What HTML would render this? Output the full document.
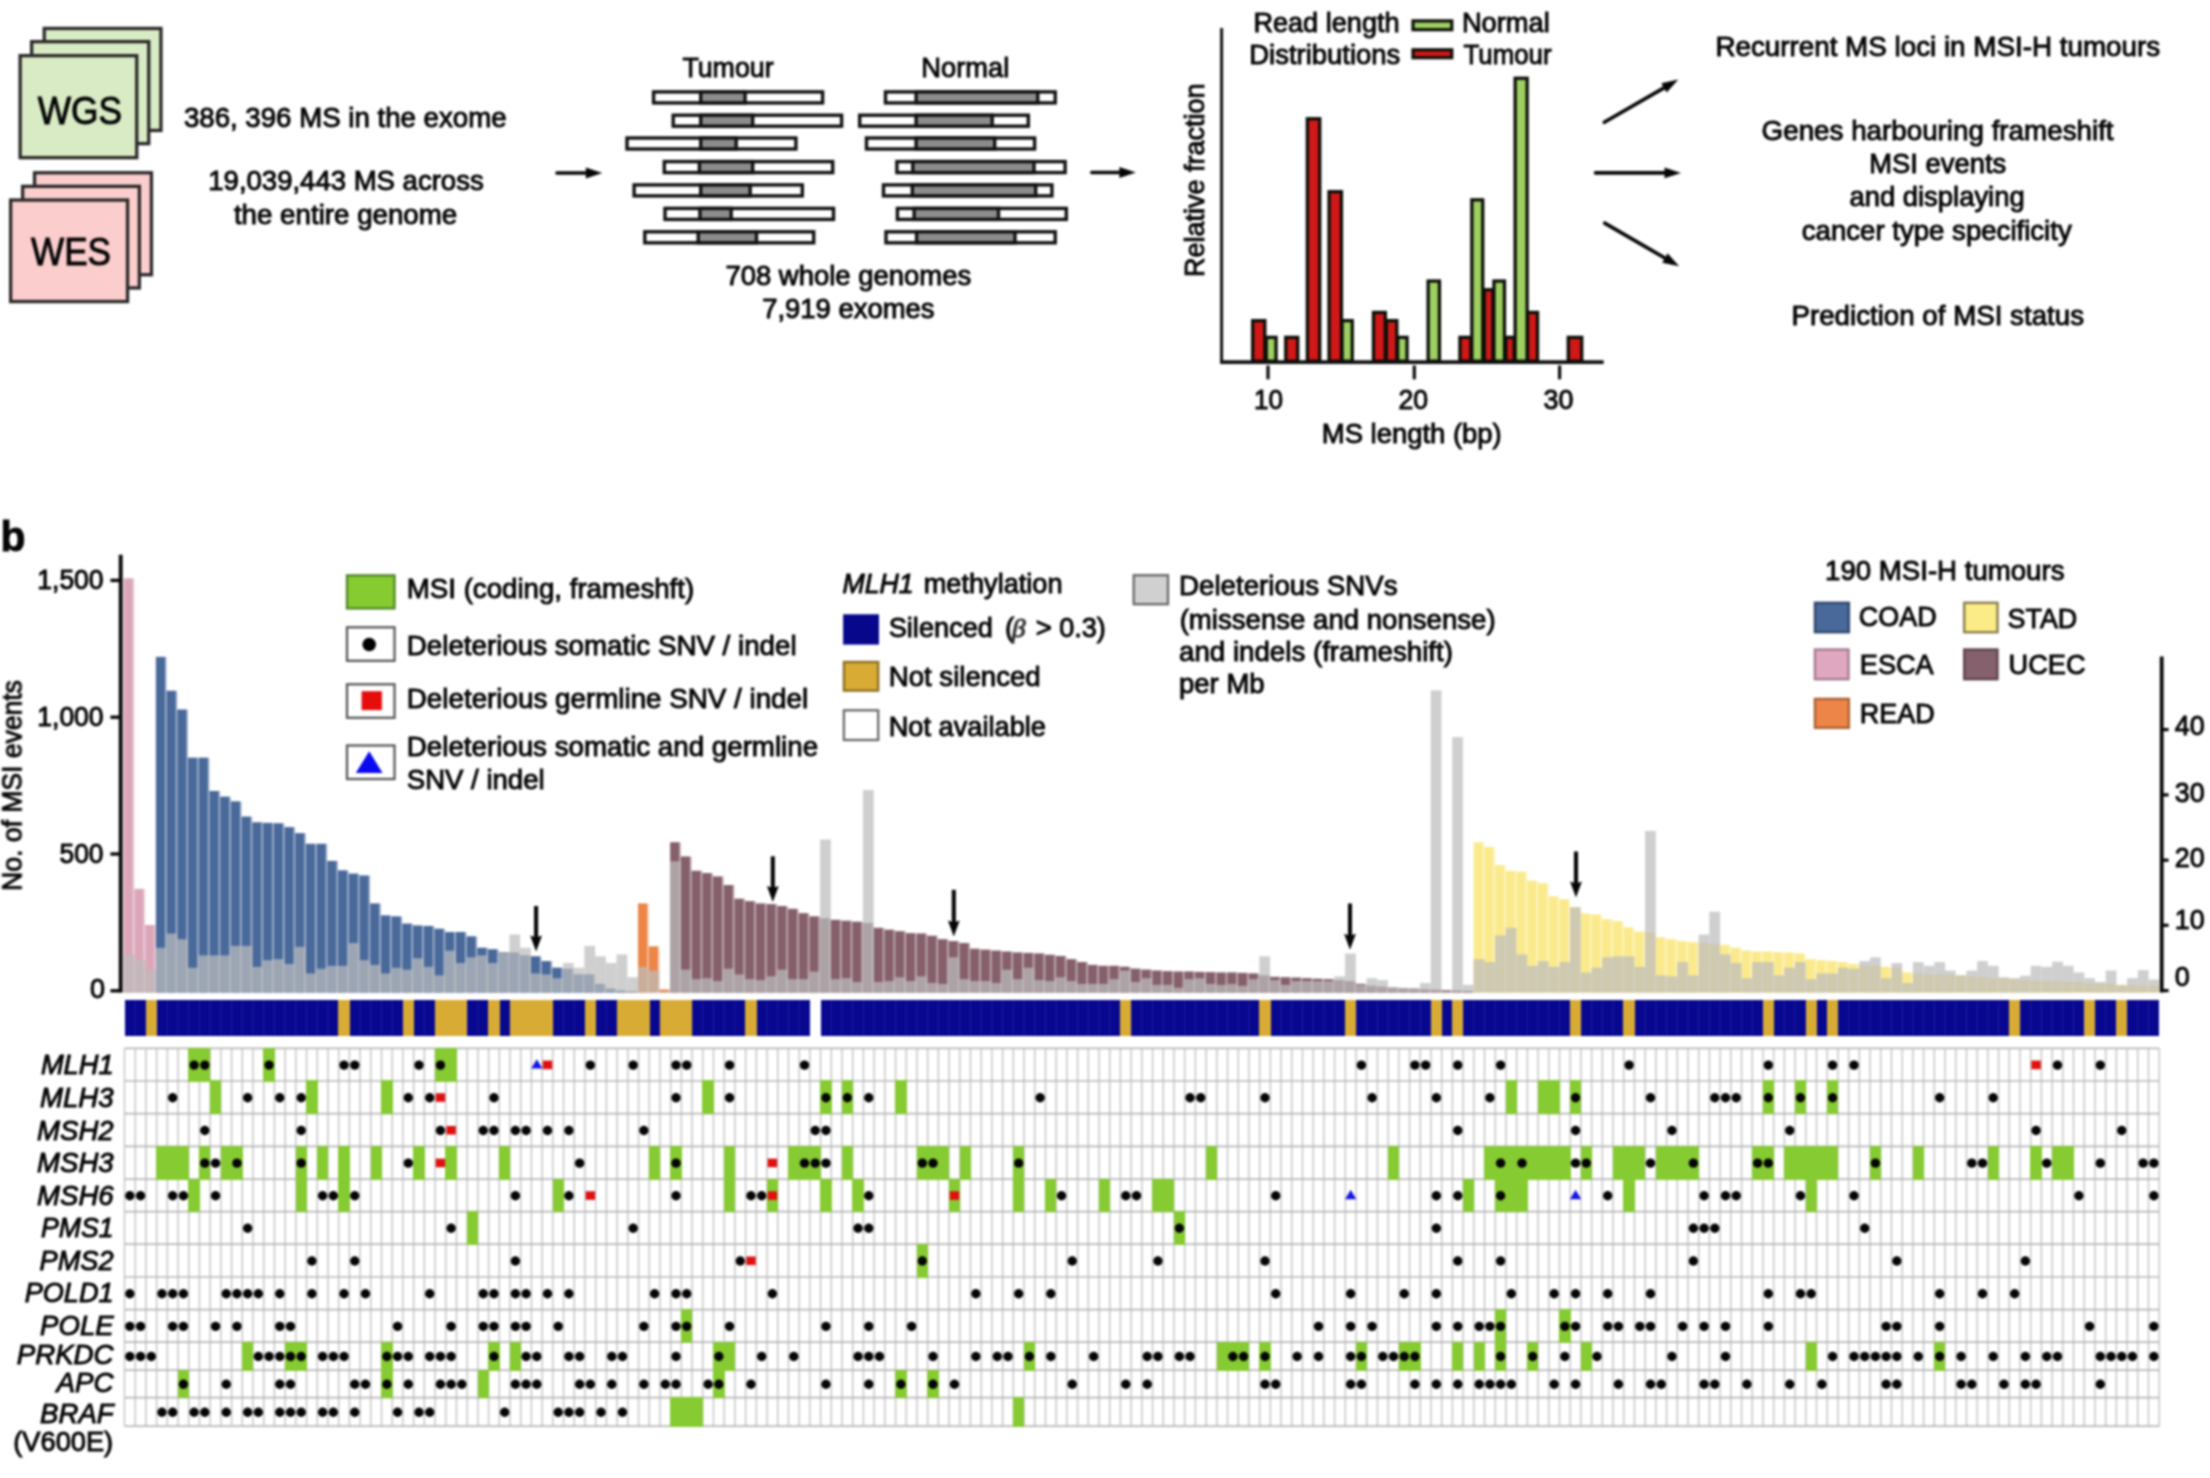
<!DOCTYPE html>
<html><head><meta charset="utf-8"><title>Figure</title>
<style>
html,body{margin:0;padding:0;background:#fff;}
body{width:2210px;height:1478px;overflow:hidden;}
svg{display:block;font-family:"Liberation Sans",sans-serif;}
#wrap{width:2210px;height:1478px;overflow:hidden;}
</style></head><body><div id="wrap">
<svg width="2210" height="1478" viewBox="0 0 2210 1478">
<defs><filter id="soft" x="0" y="0" width="100%" height="100%" filterUnits="objectBoundingBox" color-interpolation-filters="sRGB"><feGaussianBlur stdDeviation="1.0"/></filter></defs>
<g filter="url(#soft)">
<rect width="2210" height="1478" fill="#fff"/>
<rect x="44.25" y="28.45" width="116.70" height="102.00" fill="#d9ebc5" stroke="#2a2828" stroke-width="3.3" />
<rect x="31.65" y="41.65" width="117.10" height="102.00" fill="#d9ebc5" stroke="#2a2828" stroke-width="3.3" />
<rect x="20.15" y="55.65" width="116.60" height="102.00" fill="#d9ebc5" stroke="#2a2828" stroke-width="3.3" />
<rect x="34.55" y="172.75" width="116.90" height="102.00" fill="#fbcdcd" stroke="#2a2828" stroke-width="3.3" />
<rect x="22.65" y="186.35" width="116.70" height="101.60" fill="#fbcdcd" stroke="#2a2828" stroke-width="3.3" />
<rect x="10.65" y="200.05" width="116.90" height="101.50" fill="#fbcdcd" stroke="#2a2828" stroke-width="3.3" />
<text x="37.8" y="123.9" font-size="39.5" text-anchor="start" textLength="84.3" lengthAdjust="spacingAndGlyphs" fill="#050505" stroke="#050505" stroke-width="0.95"  >WGS</text>
<text x="31.0" y="265.1" font-size="39.5" text-anchor="start" textLength="80.0" lengthAdjust="spacingAndGlyphs" fill="#050505" stroke="#050505" stroke-width="0.95"  >WES</text>
<text x="183.9" y="126.8" font-size="27.5" text-anchor="start" textLength="322.7" lengthAdjust="spacingAndGlyphs" fill="#050505" stroke="#050505" stroke-width="0.95"  >386, 396 MS in the exome</text>
<text x="208.3" y="190.1" font-size="27.5" text-anchor="start" textLength="275.4" lengthAdjust="spacingAndGlyphs" fill="#050505" stroke="#050505" stroke-width="0.95"  >19,039,443 MS across</text>
<text x="233.9" y="223.6" font-size="27.5" text-anchor="start" textLength="223.4" lengthAdjust="spacingAndGlyphs" fill="#050505" stroke="#050505" stroke-width="0.95"  >the entire genome</text>
<g transform="translate(555.5 173.0) rotate(0.00)">
<path d="M1.5 0 H31.3" stroke="#050505" stroke-width="3.6" stroke-linecap="round" fill="none"/>
<path d="M46.8 0 L30.3 -5.4 L30.3 5.4 Z" fill="#050505"/>
</g>
<g transform="translate(1090.3 172.5) rotate(0.00)">
<path d="M1.5 0 H30.1" stroke="#050505" stroke-width="3.6" stroke-linecap="round" fill="none"/>
<path d="M45.6 0 L29.1 -5.4 L29.1 5.4 Z" fill="#050505"/>
</g>
<text x="682.4" y="77.3" font-size="27.5" text-anchor="start" textLength="91.2" lengthAdjust="spacingAndGlyphs" fill="#050505" stroke="#050505" stroke-width="0.95"  >Tumour</text>
<text x="921.3" y="77.3" font-size="27.5" text-anchor="start" textLength="87.9" lengthAdjust="spacingAndGlyphs" fill="#050505" stroke="#050505" stroke-width="0.95"  >Normal</text>
<rect x="653.60" y="91.90" width="169.00" height="11.00" fill="#fff" stroke="#111" stroke-width="3.4" />
<rect x="700.70" y="91.90" width="44.40" height="11.00" fill="#8c8c8c" stroke="#111" stroke-width="3.4" />
<rect x="673.20" y="115.20" width="168.40" height="11.00" fill="#fff" stroke="#111" stroke-width="3.4" />
<rect x="700.70" y="115.20" width="52.00" height="11.00" fill="#8c8c8c" stroke="#111" stroke-width="3.4" />
<rect x="627.00" y="138.00" width="168.90" height="11.00" fill="#fff" stroke="#111" stroke-width="3.4" />
<rect x="700.70" y="138.00" width="35.50" height="11.00" fill="#8c8c8c" stroke="#111" stroke-width="3.4" />
<rect x="664.30" y="161.60" width="168.40" height="11.00" fill="#fff" stroke="#111" stroke-width="3.4" />
<rect x="699.40" y="161.60" width="53.30" height="11.00" fill="#8c8c8c" stroke="#111" stroke-width="3.4" />
<rect x="634.10" y="184.90" width="168.20" height="11.00" fill="#fff" stroke="#111" stroke-width="3.4" />
<rect x="700.70" y="184.90" width="49.50" height="11.00" fill="#8c8c8c" stroke="#111" stroke-width="3.4" />
<rect x="665.00" y="208.40" width="168.50" height="11.00" fill="#fff" stroke="#111" stroke-width="3.4" />
<rect x="699.90" y="208.40" width="31.30" height="11.00" fill="#8c8c8c" stroke="#111" stroke-width="3.4" />
<rect x="644.80" y="231.80" width="168.90" height="11.00" fill="#fff" stroke="#111" stroke-width="3.4" />
<rect x="698.20" y="231.80" width="58.30" height="11.00" fill="#8c8c8c" stroke="#111" stroke-width="3.4" />
<rect x="885.50" y="91.90" width="169.70" height="11.00" fill="#fff" stroke="#111" stroke-width="3.4" />
<rect x="916.10" y="91.90" width="121.70" height="11.00" fill="#8c8c8c" stroke="#111" stroke-width="3.4" />
<rect x="859.70" y="115.20" width="168.60" height="11.00" fill="#fff" stroke="#111" stroke-width="3.4" />
<rect x="916.10" y="115.20" width="76.10" height="11.00" fill="#8c8c8c" stroke="#111" stroke-width="3.4" />
<rect x="866.50" y="138.00" width="168.10" height="11.00" fill="#fff" stroke="#111" stroke-width="3.4" />
<rect x="916.10" y="138.00" width="78.60" height="11.00" fill="#8c8c8c" stroke="#111" stroke-width="3.4" />
<rect x="896.90" y="161.60" width="168.20" height="11.00" fill="#fff" stroke="#111" stroke-width="3.4" />
<rect x="912.80" y="161.60" width="121.20" height="11.00" fill="#8c8c8c" stroke="#111" stroke-width="3.4" />
<rect x="883.50" y="184.90" width="168.40" height="11.00" fill="#fff" stroke="#111" stroke-width="3.4" />
<rect x="912.30" y="184.90" width="123.40" height="11.00" fill="#8c8c8c" stroke="#111" stroke-width="3.4" />
<rect x="897.40" y="208.40" width="168.90" height="11.00" fill="#fff" stroke="#111" stroke-width="3.4" />
<rect x="914.10" y="208.40" width="84.40" height="11.00" fill="#8c8c8c" stroke="#111" stroke-width="3.4" />
<rect x="886.00" y="231.80" width="169.20" height="11.00" fill="#fff" stroke="#111" stroke-width="3.4" />
<rect x="916.60" y="231.80" width="98.40" height="11.00" fill="#8c8c8c" stroke="#111" stroke-width="3.4" />
<text x="725.4" y="285.1" font-size="27.5" text-anchor="start" textLength="245.8" lengthAdjust="spacingAndGlyphs" fill="#050505" stroke="#050505" stroke-width="0.95"  >708 whole genomes</text>
<text x="762.2" y="318.1" font-size="27.5" text-anchor="start" textLength="172.3" lengthAdjust="spacingAndGlyphs" fill="#050505" stroke="#050505" stroke-width="0.95"  >7,919 exomes</text>
<path d="M1221.6 28 V362.4 H1603.5" stroke="#111" stroke-width="3" fill="none"/>
<path d="M1268.0 365.5 V379.3" stroke="#0a0a0a" stroke-width="3.2"/>
<path d="M1414.3 365.5 V379.3" stroke="#0a0a0a" stroke-width="3.2"/>
<path d="M1559.6 365.5 V379.3" stroke="#0a0a0a" stroke-width="3.2"/>
<rect x="1252.65" y="320.65" width="12.20" height="40.55" fill="#d01818" stroke="#0c0f08" stroke-width="3.3" />
<rect x="1266.25" y="337.35" width="9.80" height="23.85" fill="#9dd061" stroke="#0c0f08" stroke-width="3.3" />
<rect x="1285.75" y="337.35" width="12.00" height="23.85" fill="#d01818" stroke="#0c0f08" stroke-width="3.3" />
<rect x="1307.35" y="118.75" width="12.40" height="242.45" fill="#d01818" stroke="#0c0f08" stroke-width="3.3" />
<rect x="1329.05" y="191.65" width="12.40" height="169.55" fill="#d01818" stroke="#0c0f08" stroke-width="3.3" />
<rect x="1342.05" y="320.65" width="10.20" height="40.55" fill="#9dd061" stroke="#0c0f08" stroke-width="3.3" />
<rect x="1373.45" y="312.45" width="11.90" height="48.75" fill="#d01818" stroke="#0c0f08" stroke-width="3.3" />
<rect x="1386.35" y="320.65" width="10.50" height="40.55" fill="#d01818" stroke="#0c0f08" stroke-width="3.3" />
<rect x="1397.65" y="337.35" width="9.40" height="23.85" fill="#9dd061" stroke="#0c0f08" stroke-width="3.3" />
<rect x="1428.15" y="281.05" width="11.30" height="80.15" fill="#9dd061" stroke="#0c0f08" stroke-width="3.3" />
<rect x="1459.95" y="337.35" width="10.90" height="23.85" fill="#d01818" stroke="#0c0f08" stroke-width="3.3" />
<rect x="1471.85" y="199.85" width="10.90" height="161.35" fill="#9dd061" stroke="#0c0f08" stroke-width="3.3" />
<rect x="1484.25" y="289.75" width="8.70" height="71.45" fill="#d01818" stroke="#0c0f08" stroke-width="3.3" />
<rect x="1493.95" y="281.05" width="10.50" height="80.15" fill="#9dd061" stroke="#0c0f08" stroke-width="3.3" />
<rect x="1505.85" y="337.35" width="8.30" height="23.85" fill="#d01818" stroke="#0c0f08" stroke-width="3.3" />
<rect x="1515.15" y="78.25" width="12.00" height="282.95" fill="#9dd061" stroke="#0c0f08" stroke-width="3.3" />
<rect x="1527.55" y="312.45" width="10.00" height="48.75" fill="#d01818" stroke="#0c0f08" stroke-width="3.3" />
<rect x="1568.25" y="337.35" width="13.50" height="23.85" fill="#d01818" stroke="#0c0f08" stroke-width="3.3" />
<path d="M1220 361.8 H1603.5" stroke="#111" stroke-width="3" fill="none"/>
<text x="1253.4" y="31.6" font-size="27.5" text-anchor="start" textLength="146.2" lengthAdjust="spacingAndGlyphs" fill="#050505" stroke="#050505" stroke-width="0.95"  >Read length</text>
<text x="1249.3" y="64.4" font-size="27.5" text-anchor="start" textLength="151.0" lengthAdjust="spacingAndGlyphs" fill="#050505" stroke="#050505" stroke-width="0.95"  >Distributions</text>
<rect x="1413.00" y="20.90" width="38.80" height="8.80" fill="#9dd061" stroke="#0c0f08" stroke-width="3.2" />
<rect x="1413.00" y="49.80" width="38.80" height="7.90" fill="#d01818" stroke="#0c0f08" stroke-width="3.2" />
<text x="1461.9" y="31.6" font-size="27.5" text-anchor="start" textLength="87.8" lengthAdjust="spacingAndGlyphs" fill="#050505" stroke="#050505" stroke-width="0.95"  >Normal</text>
<text x="1463.5" y="64.4" font-size="27.5" text-anchor="start" textLength="88.0" lengthAdjust="spacingAndGlyphs" fill="#050505" stroke="#050505" stroke-width="0.95"  >Tumour</text>
<g transform="translate(1203.6 277) rotate(-90)">
<text x="0.0" y="0.6" font-size="27.5" text-anchor="start" textLength="193.6" lengthAdjust="spacingAndGlyphs" fill="#050505" stroke="#050505" stroke-width="0.95"  >Relative fraction</text>
</g>
<text x="1254.0" y="409.4" font-size="27" text-anchor="start" textLength="29.0" lengthAdjust="spacingAndGlyphs" fill="#050505" stroke="#050505" stroke-width="0.95"  >10</text>
<text x="1398.5" y="409.4" font-size="27" text-anchor="start" textLength="29.6" lengthAdjust="spacingAndGlyphs" fill="#050505" stroke="#050505" stroke-width="0.95"  >20</text>
<text x="1543.6" y="409.4" font-size="27" text-anchor="start" textLength="29.9" lengthAdjust="spacingAndGlyphs" fill="#050505" stroke="#050505" stroke-width="0.95"  >30</text>
<text x="1321.8" y="442.6" font-size="27.5" text-anchor="start" textLength="179.9" lengthAdjust="spacingAndGlyphs" fill="#050505" stroke="#050505" stroke-width="0.95"  >MS length (bp)</text>
<g transform="translate(1603.0 123.0) rotate(-29.96)">
<path d="M1.5 0 H71.4" stroke="#050505" stroke-width="3.6" stroke-linecap="round" fill="none"/>
<path d="M86.9 0 L70.4 -5.4 L70.4 5.4 Z" fill="#050505"/>
</g>
<g transform="translate(1594.0 172.9) rotate(0.00)">
<path d="M1.5 0 H71.5" stroke="#050505" stroke-width="3.6" stroke-linecap="round" fill="none"/>
<path d="M87.0 0 L70.5 -5.4 L70.5 5.4 Z" fill="#050505"/>
</g>
<g transform="translate(1603.4 222.4) rotate(30.08)">
<path d="M1.5 0 H72.1" stroke="#050505" stroke-width="3.6" stroke-linecap="round" fill="none"/>
<path d="M87.6 0 L71.1 -5.4 L71.1 5.4 Z" fill="#050505"/>
</g>
<text x="1715.4" y="56.2" font-size="27.5" text-anchor="start" textLength="444.7" lengthAdjust="spacingAndGlyphs" fill="#050505" stroke="#050505" stroke-width="0.95"  >Recurrent MS loci in MSI-H tumours</text>
<text x="1761.6" y="140.3" font-size="27.5" text-anchor="start" textLength="352.0" lengthAdjust="spacingAndGlyphs" fill="#050505" stroke="#050505" stroke-width="0.95"  >Genes harbouring frameshift</text>
<text x="1869.3" y="173.1" font-size="27.5" text-anchor="start" textLength="136.9" lengthAdjust="spacingAndGlyphs" fill="#050505" stroke="#050505" stroke-width="0.95"  >MSI events</text>
<text x="1849.4" y="206.4" font-size="27.5" text-anchor="start" textLength="175.3" lengthAdjust="spacingAndGlyphs" fill="#050505" stroke="#050505" stroke-width="0.95"  >and displaying</text>
<text x="1801.8" y="239.5" font-size="27.5" text-anchor="start" textLength="269.9" lengthAdjust="spacingAndGlyphs" fill="#050505" stroke="#050505" stroke-width="0.95"  >cancer type specificity</text>
<text x="1791.5" y="325.0" font-size="27.5" text-anchor="start" textLength="292.5" lengthAdjust="spacingAndGlyphs" fill="#050505" stroke="#050505" stroke-width="0.95"  >Prediction of MSI status</text>
<text x="0.5" y="550.6" font-size="42" text-anchor="start" textLength="25.0" lengthAdjust="spacingAndGlyphs" fill="#050505" stroke="#050505" stroke-width="0.95" style="font-weight:bold" >b</text>
<g>
<rect x="123.70" y="578.40" width="10.71" height="414.20" fill="#dca6b9" opacity="0.5"/>
<rect x="123.80" y="578.40" width="9.01" height="414.20" fill="#dca6b9"/>
<rect x="134.41" y="888.89" width="10.71" height="103.71" fill="#dca6b9" opacity="0.5"/>
<rect x="134.51" y="888.89" width="9.01" height="103.71" fill="#dca6b9"/>
<rect x="145.13" y="925.00" width="10.71" height="67.60" fill="#dca6b9" opacity="0.5"/>
<rect x="145.23" y="925.00" width="9.01" height="67.60" fill="#dca6b9"/>
<rect x="155.84" y="656.90" width="10.71" height="335.70" fill="#49699a" opacity="0.5"/>
<rect x="155.94" y="656.90" width="9.01" height="335.70" fill="#49699a"/>
<rect x="166.55" y="690.80" width="10.71" height="301.80" fill="#49699a" opacity="0.5"/>
<rect x="166.65" y="690.80" width="9.01" height="301.80" fill="#49699a"/>
<rect x="177.27" y="709.60" width="10.71" height="283.00" fill="#49699a" opacity="0.5"/>
<rect x="177.37" y="709.60" width="9.01" height="283.00" fill="#49699a"/>
<rect x="187.98" y="757.76" width="10.71" height="234.84" fill="#49699a" opacity="0.5"/>
<rect x="188.08" y="757.76" width="9.01" height="234.84" fill="#49699a"/>
<rect x="198.69" y="757.76" width="10.71" height="234.84" fill="#49699a" opacity="0.5"/>
<rect x="198.79" y="757.76" width="9.01" height="234.84" fill="#49699a"/>
<rect x="209.41" y="791.02" width="10.71" height="201.58" fill="#49699a" opacity="0.5"/>
<rect x="209.51" y="791.02" width="9.01" height="201.58" fill="#49699a"/>
<rect x="220.12" y="796.72" width="10.71" height="195.88" fill="#49699a" opacity="0.5"/>
<rect x="220.22" y="796.72" width="9.01" height="195.88" fill="#49699a"/>
<rect x="230.83" y="801.47" width="10.71" height="191.13" fill="#49699a" opacity="0.5"/>
<rect x="230.93" y="801.47" width="9.01" height="191.13" fill="#49699a"/>
<rect x="241.55" y="816.67" width="10.71" height="175.93" fill="#49699a" opacity="0.5"/>
<rect x="241.65" y="816.67" width="9.01" height="175.93" fill="#49699a"/>
<rect x="252.26" y="822.38" width="10.71" height="170.22" fill="#49699a" opacity="0.5"/>
<rect x="252.36" y="822.38" width="9.01" height="170.22" fill="#49699a"/>
<rect x="262.98" y="822.95" width="10.71" height="169.65" fill="#49699a" opacity="0.5"/>
<rect x="263.08" y="822.95" width="9.01" height="169.65" fill="#49699a"/>
<rect x="273.69" y="823.33" width="10.71" height="169.27" fill="#49699a" opacity="0.5"/>
<rect x="273.79" y="823.33" width="9.01" height="169.27" fill="#49699a"/>
<rect x="284.40" y="827.13" width="10.71" height="165.47" fill="#49699a" opacity="0.5"/>
<rect x="284.50" y="827.13" width="9.01" height="165.47" fill="#49699a"/>
<rect x="295.12" y="833.21" width="10.71" height="159.39" fill="#49699a" opacity="0.5"/>
<rect x="295.22" y="833.21" width="9.01" height="159.39" fill="#49699a"/>
<rect x="305.83" y="843.85" width="10.71" height="148.75" fill="#49699a" opacity="0.5"/>
<rect x="305.93" y="843.85" width="9.01" height="148.75" fill="#49699a"/>
<rect x="316.54" y="843.85" width="10.71" height="148.75" fill="#49699a" opacity="0.5"/>
<rect x="316.64" y="843.85" width="9.01" height="148.75" fill="#49699a"/>
<rect x="327.26" y="860.95" width="10.71" height="131.65" fill="#49699a" opacity="0.5"/>
<rect x="327.36" y="860.95" width="9.01" height="131.65" fill="#49699a"/>
<rect x="337.97" y="870.46" width="10.71" height="122.14" fill="#49699a" opacity="0.5"/>
<rect x="338.07" y="870.46" width="9.01" height="122.14" fill="#49699a"/>
<rect x="348.68" y="873.69" width="10.71" height="118.91" fill="#49699a" opacity="0.5"/>
<rect x="348.78" y="873.69" width="9.01" height="118.91" fill="#49699a"/>
<rect x="359.40" y="875.59" width="10.71" height="117.01" fill="#49699a" opacity="0.5"/>
<rect x="359.50" y="875.59" width="9.01" height="117.01" fill="#49699a"/>
<rect x="370.11" y="903.53" width="10.71" height="89.07" fill="#49699a" opacity="0.5"/>
<rect x="370.21" y="903.53" width="9.01" height="89.07" fill="#49699a"/>
<rect x="380.82" y="915.50" width="10.71" height="77.10" fill="#49699a" opacity="0.5"/>
<rect x="380.92" y="915.50" width="9.01" height="77.10" fill="#49699a"/>
<rect x="391.54" y="916.45" width="10.71" height="76.15" fill="#49699a" opacity="0.5"/>
<rect x="391.64" y="916.45" width="9.01" height="76.15" fill="#49699a"/>
<rect x="402.25" y="923.67" width="10.71" height="68.93" fill="#49699a" opacity="0.5"/>
<rect x="402.35" y="923.67" width="9.01" height="68.93" fill="#49699a"/>
<rect x="412.96" y="925.57" width="10.71" height="67.03" fill="#49699a" opacity="0.5"/>
<rect x="413.06" y="925.57" width="9.01" height="67.03" fill="#49699a"/>
<rect x="423.68" y="925.95" width="10.71" height="66.65" fill="#49699a" opacity="0.5"/>
<rect x="423.78" y="925.95" width="9.01" height="66.65" fill="#49699a"/>
<rect x="434.39" y="928.80" width="10.71" height="63.80" fill="#49699a" opacity="0.5"/>
<rect x="434.49" y="928.80" width="9.01" height="63.80" fill="#49699a"/>
<rect x="445.10" y="932.03" width="10.71" height="60.57" fill="#49699a" opacity="0.5"/>
<rect x="445.20" y="932.03" width="9.01" height="60.57" fill="#49699a"/>
<rect x="455.82" y="932.03" width="10.71" height="60.57" fill="#49699a" opacity="0.5"/>
<rect x="455.92" y="932.03" width="9.01" height="60.57" fill="#49699a"/>
<rect x="466.53" y="936.40" width="10.71" height="56.20" fill="#49699a" opacity="0.5"/>
<rect x="466.63" y="936.40" width="9.01" height="56.20" fill="#49699a"/>
<rect x="477.25" y="947.81" width="10.71" height="44.79" fill="#49699a" opacity="0.5"/>
<rect x="477.35" y="947.81" width="9.01" height="44.79" fill="#49699a"/>
<rect x="487.96" y="949.33" width="10.71" height="43.27" fill="#49699a" opacity="0.5"/>
<rect x="488.06" y="949.33" width="9.01" height="43.27" fill="#49699a"/>
<rect x="498.67" y="952.18" width="10.71" height="40.42" fill="#49699a" opacity="0.5"/>
<rect x="498.77" y="952.18" width="9.01" height="40.42" fill="#49699a"/>
<rect x="509.39" y="952.56" width="10.71" height="40.04" fill="#49699a" opacity="0.5"/>
<rect x="509.49" y="952.56" width="9.01" height="40.04" fill="#49699a"/>
<rect x="520.10" y="955.41" width="10.71" height="37.19" fill="#49699a" opacity="0.5"/>
<rect x="520.20" y="955.41" width="9.01" height="37.19" fill="#49699a"/>
<rect x="530.81" y="956.36" width="10.71" height="36.24" fill="#49699a" opacity="0.5"/>
<rect x="530.91" y="956.36" width="9.01" height="36.24" fill="#49699a"/>
<rect x="541.53" y="961.11" width="10.71" height="31.49" fill="#49699a" opacity="0.5"/>
<rect x="541.63" y="961.11" width="9.01" height="31.49" fill="#49699a"/>
<rect x="552.24" y="967.76" width="10.71" height="24.84" fill="#49699a" opacity="0.5"/>
<rect x="552.34" y="967.76" width="9.01" height="24.84" fill="#49699a"/>
<rect x="562.95" y="968.71" width="10.71" height="23.89" fill="#49699a" opacity="0.5"/>
<rect x="563.05" y="968.71" width="9.01" height="23.89" fill="#49699a"/>
<rect x="573.67" y="974.41" width="10.71" height="18.19" fill="#49699a" opacity="0.5"/>
<rect x="573.77" y="974.41" width="9.01" height="18.19" fill="#49699a"/>
<rect x="584.38" y="974.41" width="10.71" height="18.19" fill="#49699a" opacity="0.5"/>
<rect x="584.48" y="974.41" width="9.01" height="18.19" fill="#49699a"/>
<rect x="595.09" y="983.91" width="10.71" height="8.69" fill="#49699a" opacity="0.5"/>
<rect x="595.19" y="983.91" width="9.01" height="8.69" fill="#49699a"/>
<rect x="605.81" y="988.67" width="10.71" height="3.93" fill="#49699a" opacity="0.5"/>
<rect x="605.91" y="988.67" width="9.01" height="3.93" fill="#49699a"/>
<rect x="616.52" y="990.57" width="10.71" height="2.03" fill="#49699a" opacity="0.5"/>
<rect x="616.62" y="990.57" width="9.01" height="2.03" fill="#49699a"/>
<rect x="627.23" y="991.52" width="10.71" height="1.08" fill="#49699a" opacity="0.5"/>
<rect x="627.33" y="991.52" width="9.01" height="1.08" fill="#49699a"/>
<rect x="637.95" y="903.53" width="10.71" height="89.07" fill="#ec8546" opacity="0.5"/>
<rect x="638.05" y="903.53" width="9.01" height="89.07" fill="#ec8546"/>
<rect x="648.66" y="946.48" width="10.71" height="46.12" fill="#ec8546" opacity="0.5"/>
<rect x="648.76" y="946.48" width="9.01" height="46.12" fill="#ec8546"/>
<rect x="659.38" y="989.62" width="10.71" height="2.98" fill="#ec8546" opacity="0.5"/>
<rect x="659.48" y="989.62" width="9.01" height="2.98" fill="#ec8546"/>
<rect x="670.09" y="842.33" width="10.71" height="150.27" fill="#85606b" opacity="0.5"/>
<rect x="670.19" y="842.33" width="9.01" height="150.27" fill="#85606b"/>
<rect x="680.80" y="856.58" width="10.71" height="136.02" fill="#85606b" opacity="0.5"/>
<rect x="680.90" y="856.58" width="9.01" height="136.02" fill="#85606b"/>
<rect x="691.52" y="870.84" width="10.71" height="121.76" fill="#85606b" opacity="0.5"/>
<rect x="691.62" y="870.84" width="9.01" height="121.76" fill="#85606b"/>
<rect x="702.23" y="873.12" width="10.71" height="119.48" fill="#85606b" opacity="0.5"/>
<rect x="702.33" y="873.12" width="9.01" height="119.48" fill="#85606b"/>
<rect x="712.94" y="876.54" width="10.71" height="116.06" fill="#85606b" opacity="0.5"/>
<rect x="713.04" y="876.54" width="9.01" height="116.06" fill="#85606b"/>
<rect x="723.66" y="885.09" width="10.71" height="107.51" fill="#85606b" opacity="0.5"/>
<rect x="723.76" y="885.09" width="9.01" height="107.51" fill="#85606b"/>
<rect x="734.37" y="898.77" width="10.71" height="93.83" fill="#85606b" opacity="0.5"/>
<rect x="734.47" y="898.77" width="9.01" height="93.83" fill="#85606b"/>
<rect x="745.08" y="901.24" width="10.71" height="91.36" fill="#85606b" opacity="0.5"/>
<rect x="745.18" y="901.24" width="9.01" height="91.36" fill="#85606b"/>
<rect x="755.80" y="903.53" width="10.71" height="89.07" fill="#85606b" opacity="0.5"/>
<rect x="755.90" y="903.53" width="9.01" height="89.07" fill="#85606b"/>
<rect x="766.51" y="904.10" width="10.71" height="88.50" fill="#85606b" opacity="0.5"/>
<rect x="766.61" y="904.10" width="9.01" height="88.50" fill="#85606b"/>
<rect x="777.22" y="906.00" width="10.71" height="86.60" fill="#85606b" opacity="0.5"/>
<rect x="777.32" y="906.00" width="9.01" height="86.60" fill="#85606b"/>
<rect x="787.94" y="908.85" width="10.71" height="83.75" fill="#85606b" opacity="0.5"/>
<rect x="788.04" y="908.85" width="9.01" height="83.75" fill="#85606b"/>
<rect x="798.65" y="913.22" width="10.71" height="79.38" fill="#85606b" opacity="0.5"/>
<rect x="798.75" y="913.22" width="9.01" height="79.38" fill="#85606b"/>
<rect x="809.36" y="916.45" width="10.71" height="76.15" fill="#85606b" opacity="0.5"/>
<rect x="809.46" y="916.45" width="9.01" height="76.15" fill="#85606b"/>
<rect x="820.08" y="918.35" width="10.71" height="74.25" fill="#85606b" opacity="0.5"/>
<rect x="820.18" y="918.35" width="9.01" height="74.25" fill="#85606b"/>
<rect x="830.79" y="919.87" width="10.71" height="72.73" fill="#85606b" opacity="0.5"/>
<rect x="830.89" y="919.87" width="9.01" height="72.73" fill="#85606b"/>
<rect x="841.50" y="920.82" width="10.71" height="71.78" fill="#85606b" opacity="0.5"/>
<rect x="841.60" y="920.82" width="9.01" height="71.78" fill="#85606b"/>
<rect x="852.22" y="921.77" width="10.71" height="70.83" fill="#85606b" opacity="0.5"/>
<rect x="852.32" y="921.77" width="9.01" height="70.83" fill="#85606b"/>
<rect x="862.93" y="923.10" width="10.71" height="69.50" fill="#85606b" opacity="0.5"/>
<rect x="863.03" y="923.10" width="9.01" height="69.50" fill="#85606b"/>
<rect x="873.64" y="927.85" width="10.71" height="64.75" fill="#85606b" opacity="0.5"/>
<rect x="873.75" y="927.85" width="9.01" height="64.75" fill="#85606b"/>
<rect x="884.36" y="929.75" width="10.71" height="62.85" fill="#85606b" opacity="0.5"/>
<rect x="884.46" y="929.75" width="9.01" height="62.85" fill="#85606b"/>
<rect x="895.07" y="931.27" width="10.71" height="61.33" fill="#85606b" opacity="0.5"/>
<rect x="895.17" y="931.27" width="9.01" height="61.33" fill="#85606b"/>
<rect x="905.79" y="933.17" width="10.71" height="59.43" fill="#85606b" opacity="0.5"/>
<rect x="905.89" y="933.17" width="9.01" height="59.43" fill="#85606b"/>
<rect x="916.50" y="933.55" width="10.71" height="59.05" fill="#85606b" opacity="0.5"/>
<rect x="916.60" y="933.55" width="9.01" height="59.05" fill="#85606b"/>
<rect x="927.21" y="935.83" width="10.71" height="56.77" fill="#85606b" opacity="0.5"/>
<rect x="927.31" y="935.83" width="9.01" height="56.77" fill="#85606b"/>
<rect x="937.93" y="939.25" width="10.71" height="53.35" fill="#85606b" opacity="0.5"/>
<rect x="938.03" y="939.25" width="9.01" height="53.35" fill="#85606b"/>
<rect x="948.64" y="941.15" width="10.71" height="51.45" fill="#85606b" opacity="0.5"/>
<rect x="948.74" y="941.15" width="9.01" height="51.45" fill="#85606b"/>
<rect x="959.35" y="943.05" width="10.71" height="49.55" fill="#85606b" opacity="0.5"/>
<rect x="959.45" y="943.05" width="9.01" height="49.55" fill="#85606b"/>
<rect x="970.07" y="948.76" width="10.71" height="43.84" fill="#85606b" opacity="0.5"/>
<rect x="970.17" y="948.76" width="9.01" height="43.84" fill="#85606b"/>
<rect x="980.78" y="949.71" width="10.71" height="42.89" fill="#85606b" opacity="0.5"/>
<rect x="980.88" y="949.71" width="9.01" height="42.89" fill="#85606b"/>
<rect x="991.49" y="950.66" width="10.71" height="41.94" fill="#85606b" opacity="0.5"/>
<rect x="991.59" y="950.66" width="9.01" height="41.94" fill="#85606b"/>
<rect x="1002.21" y="951.61" width="10.71" height="40.99" fill="#85606b" opacity="0.5"/>
<rect x="1002.31" y="951.61" width="9.01" height="40.99" fill="#85606b"/>
<rect x="1012.92" y="952.56" width="10.71" height="40.04" fill="#85606b" opacity="0.5"/>
<rect x="1013.02" y="952.56" width="9.01" height="40.04" fill="#85606b"/>
<rect x="1023.63" y="952.94" width="10.71" height="39.66" fill="#85606b" opacity="0.5"/>
<rect x="1023.73" y="952.94" width="9.01" height="39.66" fill="#85606b"/>
<rect x="1034.35" y="953.51" width="10.71" height="39.09" fill="#85606b" opacity="0.5"/>
<rect x="1034.45" y="953.51" width="9.01" height="39.09" fill="#85606b"/>
<rect x="1045.06" y="954.84" width="10.71" height="37.76" fill="#85606b" opacity="0.5"/>
<rect x="1045.16" y="954.84" width="9.01" height="37.76" fill="#85606b"/>
<rect x="1055.77" y="955.98" width="10.71" height="36.62" fill="#85606b" opacity="0.5"/>
<rect x="1055.87" y="955.98" width="9.01" height="36.62" fill="#85606b"/>
<rect x="1066.49" y="959.21" width="10.71" height="33.39" fill="#85606b" opacity="0.5"/>
<rect x="1066.59" y="959.21" width="9.01" height="33.39" fill="#85606b"/>
<rect x="1077.20" y="962.06" width="10.71" height="30.54" fill="#85606b" opacity="0.5"/>
<rect x="1077.30" y="962.06" width="9.01" height="30.54" fill="#85606b"/>
<rect x="1087.91" y="964.91" width="10.71" height="27.69" fill="#85606b" opacity="0.5"/>
<rect x="1088.01" y="964.91" width="9.01" height="27.69" fill="#85606b"/>
<rect x="1098.63" y="965.86" width="10.71" height="26.74" fill="#85606b" opacity="0.5"/>
<rect x="1098.73" y="965.86" width="9.01" height="26.74" fill="#85606b"/>
<rect x="1109.34" y="965.86" width="10.71" height="26.74" fill="#85606b" opacity="0.5"/>
<rect x="1109.44" y="965.86" width="9.01" height="26.74" fill="#85606b"/>
<rect x="1120.06" y="966.81" width="10.71" height="25.79" fill="#85606b" opacity="0.5"/>
<rect x="1120.16" y="966.81" width="9.01" height="25.79" fill="#85606b"/>
<rect x="1130.77" y="968.71" width="10.71" height="23.89" fill="#85606b" opacity="0.5"/>
<rect x="1130.87" y="968.71" width="9.01" height="23.89" fill="#85606b"/>
<rect x="1141.48" y="969.66" width="10.71" height="22.94" fill="#85606b" opacity="0.5"/>
<rect x="1141.58" y="969.66" width="9.01" height="22.94" fill="#85606b"/>
<rect x="1152.20" y="970.61" width="10.71" height="21.99" fill="#85606b" opacity="0.5"/>
<rect x="1152.30" y="970.61" width="9.01" height="21.99" fill="#85606b"/>
<rect x="1162.91" y="971.18" width="10.71" height="21.42" fill="#85606b" opacity="0.5"/>
<rect x="1163.01" y="971.18" width="9.01" height="21.42" fill="#85606b"/>
<rect x="1173.62" y="971.56" width="10.71" height="21.04" fill="#85606b" opacity="0.5"/>
<rect x="1173.72" y="971.56" width="9.01" height="21.04" fill="#85606b"/>
<rect x="1184.34" y="971.56" width="10.71" height="21.04" fill="#85606b" opacity="0.5"/>
<rect x="1184.44" y="971.56" width="9.01" height="21.04" fill="#85606b"/>
<rect x="1195.05" y="971.94" width="10.71" height="20.66" fill="#85606b" opacity="0.5"/>
<rect x="1195.15" y="971.94" width="9.01" height="20.66" fill="#85606b"/>
<rect x="1205.76" y="972.13" width="10.71" height="20.47" fill="#85606b" opacity="0.5"/>
<rect x="1205.86" y="972.13" width="9.01" height="20.47" fill="#85606b"/>
<rect x="1216.48" y="972.51" width="10.71" height="20.09" fill="#85606b" opacity="0.5"/>
<rect x="1216.58" y="972.51" width="9.01" height="20.09" fill="#85606b"/>
<rect x="1227.19" y="972.51" width="10.71" height="20.09" fill="#85606b" opacity="0.5"/>
<rect x="1227.29" y="972.51" width="9.01" height="20.09" fill="#85606b"/>
<rect x="1237.90" y="972.89" width="10.71" height="19.71" fill="#85606b" opacity="0.5"/>
<rect x="1238.00" y="972.89" width="9.01" height="19.71" fill="#85606b"/>
<rect x="1248.62" y="973.46" width="10.71" height="19.14" fill="#85606b" opacity="0.5"/>
<rect x="1248.72" y="973.46" width="9.01" height="19.14" fill="#85606b"/>
<rect x="1259.33" y="975.36" width="10.71" height="17.24" fill="#85606b" opacity="0.5"/>
<rect x="1259.43" y="975.36" width="9.01" height="17.24" fill="#85606b"/>
<rect x="1270.04" y="976.88" width="10.71" height="15.72" fill="#85606b" opacity="0.5"/>
<rect x="1270.14" y="976.88" width="9.01" height="15.72" fill="#85606b"/>
<rect x="1280.76" y="977.26" width="10.71" height="15.34" fill="#85606b" opacity="0.5"/>
<rect x="1280.86" y="977.26" width="9.01" height="15.34" fill="#85606b"/>
<rect x="1291.47" y="977.64" width="10.71" height="14.96" fill="#85606b" opacity="0.5"/>
<rect x="1291.57" y="977.64" width="9.01" height="14.96" fill="#85606b"/>
<rect x="1302.18" y="978.21" width="10.71" height="14.39" fill="#85606b" opacity="0.5"/>
<rect x="1302.28" y="978.21" width="9.01" height="14.39" fill="#85606b"/>
<rect x="1312.90" y="978.78" width="10.71" height="13.82" fill="#85606b" opacity="0.5"/>
<rect x="1313.00" y="978.78" width="9.01" height="13.82" fill="#85606b"/>
<rect x="1323.61" y="979.16" width="10.71" height="13.44" fill="#85606b" opacity="0.5"/>
<rect x="1323.71" y="979.16" width="9.01" height="13.44" fill="#85606b"/>
<rect x="1334.33" y="980.11" width="10.71" height="12.49" fill="#85606b" opacity="0.5"/>
<rect x="1334.43" y="980.11" width="9.01" height="12.49" fill="#85606b"/>
<rect x="1345.04" y="981.06" width="10.71" height="11.54" fill="#85606b" opacity="0.5"/>
<rect x="1345.14" y="981.06" width="9.01" height="11.54" fill="#85606b"/>
<rect x="1355.75" y="983.91" width="10.71" height="8.69" fill="#85606b" opacity="0.5"/>
<rect x="1355.85" y="983.91" width="9.01" height="8.69" fill="#85606b"/>
<rect x="1366.47" y="985.81" width="10.71" height="6.79" fill="#85606b" opacity="0.5"/>
<rect x="1366.57" y="985.81" width="9.01" height="6.79" fill="#85606b"/>
<rect x="1377.18" y="986.76" width="10.71" height="5.84" fill="#85606b" opacity="0.5"/>
<rect x="1377.28" y="986.76" width="9.01" height="5.84" fill="#85606b"/>
<rect x="1387.89" y="987.72" width="10.71" height="4.88" fill="#85606b" opacity="0.5"/>
<rect x="1387.99" y="987.72" width="9.01" height="4.88" fill="#85606b"/>
<rect x="1398.61" y="988.29" width="10.71" height="4.31" fill="#85606b" opacity="0.5"/>
<rect x="1398.71" y="988.29" width="9.01" height="4.31" fill="#85606b"/>
<rect x="1409.32" y="988.67" width="10.71" height="3.93" fill="#85606b" opacity="0.5"/>
<rect x="1409.42" y="988.67" width="9.01" height="3.93" fill="#85606b"/>
<rect x="1420.03" y="989.24" width="10.71" height="3.36" fill="#85606b" opacity="0.5"/>
<rect x="1420.13" y="989.24" width="9.01" height="3.36" fill="#85606b"/>
<rect x="1430.75" y="989.62" width="10.71" height="2.98" fill="#85606b" opacity="0.5"/>
<rect x="1430.85" y="989.62" width="9.01" height="2.98" fill="#85606b"/>
<rect x="1441.46" y="990.00" width="10.71" height="2.60" fill="#85606b" opacity="0.5"/>
<rect x="1441.56" y="990.00" width="9.01" height="2.60" fill="#85606b"/>
<rect x="1452.17" y="990.57" width="10.71" height="2.03" fill="#85606b" opacity="0.5"/>
<rect x="1452.27" y="990.57" width="9.01" height="2.03" fill="#85606b"/>
<rect x="1462.89" y="990.95" width="10.71" height="1.65" fill="#85606b" opacity="0.5"/>
<rect x="1462.99" y="990.95" width="9.01" height="1.65" fill="#85606b"/>
<rect x="1473.60" y="842.33" width="10.71" height="150.27" fill="#fbea8c" opacity="0.5"/>
<rect x="1473.70" y="842.33" width="9.01" height="150.27" fill="#fbea8c"/>
<rect x="1484.31" y="847.08" width="10.71" height="145.52" fill="#fbea8c" opacity="0.5"/>
<rect x="1484.41" y="847.08" width="9.01" height="145.52" fill="#fbea8c"/>
<rect x="1495.03" y="865.14" width="10.71" height="127.46" fill="#fbea8c" opacity="0.5"/>
<rect x="1495.13" y="865.14" width="9.01" height="127.46" fill="#fbea8c"/>
<rect x="1505.74" y="870.84" width="10.71" height="121.76" fill="#fbea8c" opacity="0.5"/>
<rect x="1505.84" y="870.84" width="9.01" height="121.76" fill="#fbea8c"/>
<rect x="1516.45" y="871.79" width="10.71" height="120.81" fill="#fbea8c" opacity="0.5"/>
<rect x="1516.55" y="871.79" width="9.01" height="120.81" fill="#fbea8c"/>
<rect x="1527.17" y="880.72" width="10.71" height="111.88" fill="#fbea8c" opacity="0.5"/>
<rect x="1527.27" y="880.72" width="9.01" height="111.88" fill="#fbea8c"/>
<rect x="1537.88" y="883.19" width="10.71" height="109.41" fill="#fbea8c" opacity="0.5"/>
<rect x="1537.98" y="883.19" width="9.01" height="109.41" fill="#fbea8c"/>
<rect x="1548.60" y="896.49" width="10.71" height="96.11" fill="#fbea8c" opacity="0.5"/>
<rect x="1548.70" y="896.49" width="9.01" height="96.11" fill="#fbea8c"/>
<rect x="1559.31" y="899.34" width="10.71" height="93.26" fill="#fbea8c" opacity="0.5"/>
<rect x="1559.41" y="899.34" width="9.01" height="93.26" fill="#fbea8c"/>
<rect x="1570.02" y="906.95" width="10.71" height="85.65" fill="#fbea8c" opacity="0.5"/>
<rect x="1570.12" y="906.95" width="9.01" height="85.65" fill="#fbea8c"/>
<rect x="1580.74" y="913.60" width="10.71" height="79.00" fill="#fbea8c" opacity="0.5"/>
<rect x="1580.84" y="913.60" width="9.01" height="79.00" fill="#fbea8c"/>
<rect x="1591.45" y="914.55" width="10.71" height="78.05" fill="#fbea8c" opacity="0.5"/>
<rect x="1591.55" y="914.55" width="9.01" height="78.05" fill="#fbea8c"/>
<rect x="1602.16" y="919.30" width="10.71" height="73.30" fill="#fbea8c" opacity="0.5"/>
<rect x="1602.26" y="919.30" width="9.01" height="73.30" fill="#fbea8c"/>
<rect x="1612.88" y="921.20" width="10.71" height="71.40" fill="#fbea8c" opacity="0.5"/>
<rect x="1612.98" y="921.20" width="9.01" height="71.40" fill="#fbea8c"/>
<rect x="1623.59" y="927.47" width="10.71" height="65.13" fill="#fbea8c" opacity="0.5"/>
<rect x="1623.69" y="927.47" width="9.01" height="65.13" fill="#fbea8c"/>
<rect x="1634.30" y="931.65" width="10.71" height="60.95" fill="#fbea8c" opacity="0.5"/>
<rect x="1634.40" y="931.65" width="9.01" height="60.95" fill="#fbea8c"/>
<rect x="1645.02" y="932.60" width="10.71" height="60.00" fill="#fbea8c" opacity="0.5"/>
<rect x="1645.12" y="932.60" width="9.01" height="60.00" fill="#fbea8c"/>
<rect x="1655.73" y="937.35" width="10.71" height="55.25" fill="#fbea8c" opacity="0.5"/>
<rect x="1655.83" y="937.35" width="9.01" height="55.25" fill="#fbea8c"/>
<rect x="1666.44" y="939.25" width="10.71" height="53.35" fill="#fbea8c" opacity="0.5"/>
<rect x="1666.54" y="939.25" width="9.01" height="53.35" fill="#fbea8c"/>
<rect x="1677.16" y="941.15" width="10.71" height="51.45" fill="#fbea8c" opacity="0.5"/>
<rect x="1677.26" y="941.15" width="9.01" height="51.45" fill="#fbea8c"/>
<rect x="1687.87" y="942.10" width="10.71" height="50.50" fill="#fbea8c" opacity="0.5"/>
<rect x="1687.97" y="942.10" width="9.01" height="50.50" fill="#fbea8c"/>
<rect x="1698.58" y="943.05" width="10.71" height="49.55" fill="#fbea8c" opacity="0.5"/>
<rect x="1698.68" y="943.05" width="9.01" height="49.55" fill="#fbea8c"/>
<rect x="1709.30" y="944.00" width="10.71" height="48.60" fill="#fbea8c" opacity="0.5"/>
<rect x="1709.40" y="944.00" width="9.01" height="48.60" fill="#fbea8c"/>
<rect x="1720.01" y="944.95" width="10.71" height="47.65" fill="#fbea8c" opacity="0.5"/>
<rect x="1720.11" y="944.95" width="9.01" height="47.65" fill="#fbea8c"/>
<rect x="1730.72" y="947.81" width="10.71" height="44.79" fill="#fbea8c" opacity="0.5"/>
<rect x="1730.82" y="947.81" width="9.01" height="44.79" fill="#fbea8c"/>
<rect x="1741.44" y="950.66" width="10.71" height="41.94" fill="#fbea8c" opacity="0.5"/>
<rect x="1741.54" y="950.66" width="9.01" height="41.94" fill="#fbea8c"/>
<rect x="1752.15" y="951.61" width="10.71" height="40.99" fill="#fbea8c" opacity="0.5"/>
<rect x="1752.25" y="951.61" width="9.01" height="40.99" fill="#fbea8c"/>
<rect x="1762.87" y="951.61" width="10.71" height="40.99" fill="#fbea8c" opacity="0.5"/>
<rect x="1762.97" y="951.61" width="9.01" height="40.99" fill="#fbea8c"/>
<rect x="1773.58" y="952.18" width="10.71" height="40.42" fill="#fbea8c" opacity="0.5"/>
<rect x="1773.68" y="952.18" width="9.01" height="40.42" fill="#fbea8c"/>
<rect x="1784.29" y="952.56" width="10.71" height="40.04" fill="#fbea8c" opacity="0.5"/>
<rect x="1784.39" y="952.56" width="9.01" height="40.04" fill="#fbea8c"/>
<rect x="1795.01" y="953.51" width="10.71" height="39.09" fill="#fbea8c" opacity="0.5"/>
<rect x="1795.11" y="953.51" width="9.01" height="39.09" fill="#fbea8c"/>
<rect x="1805.72" y="959.21" width="10.71" height="33.39" fill="#fbea8c" opacity="0.5"/>
<rect x="1805.82" y="959.21" width="9.01" height="33.39" fill="#fbea8c"/>
<rect x="1816.43" y="960.16" width="10.71" height="32.44" fill="#fbea8c" opacity="0.5"/>
<rect x="1816.53" y="960.16" width="9.01" height="32.44" fill="#fbea8c"/>
<rect x="1827.15" y="961.11" width="10.71" height="31.49" fill="#fbea8c" opacity="0.5"/>
<rect x="1827.25" y="961.11" width="9.01" height="31.49" fill="#fbea8c"/>
<rect x="1837.86" y="962.06" width="10.71" height="30.54" fill="#fbea8c" opacity="0.5"/>
<rect x="1837.96" y="962.06" width="9.01" height="30.54" fill="#fbea8c"/>
<rect x="1848.57" y="963.96" width="10.71" height="28.64" fill="#fbea8c" opacity="0.5"/>
<rect x="1848.67" y="963.96" width="9.01" height="28.64" fill="#fbea8c"/>
<rect x="1859.29" y="965.86" width="10.71" height="26.74" fill="#fbea8c" opacity="0.5"/>
<rect x="1859.39" y="965.86" width="9.01" height="26.74" fill="#fbea8c"/>
<rect x="1870.00" y="965.86" width="10.71" height="26.74" fill="#fbea8c" opacity="0.5"/>
<rect x="1870.10" y="965.86" width="9.01" height="26.74" fill="#fbea8c"/>
<rect x="1880.71" y="966.81" width="10.71" height="25.79" fill="#fbea8c" opacity="0.5"/>
<rect x="1880.81" y="966.81" width="9.01" height="25.79" fill="#fbea8c"/>
<rect x="1891.43" y="967.76" width="10.71" height="24.84" fill="#fbea8c" opacity="0.5"/>
<rect x="1891.53" y="967.76" width="9.01" height="24.84" fill="#fbea8c"/>
<rect x="1902.14" y="972.51" width="10.71" height="20.09" fill="#fbea8c" opacity="0.5"/>
<rect x="1902.24" y="972.51" width="9.01" height="20.09" fill="#fbea8c"/>
<rect x="1912.85" y="973.46" width="10.71" height="19.14" fill="#fbea8c" opacity="0.5"/>
<rect x="1912.95" y="973.46" width="9.01" height="19.14" fill="#fbea8c"/>
<rect x="1923.57" y="974.41" width="10.71" height="18.19" fill="#fbea8c" opacity="0.5"/>
<rect x="1923.67" y="974.41" width="9.01" height="18.19" fill="#fbea8c"/>
<rect x="1934.28" y="974.41" width="10.71" height="18.19" fill="#fbea8c" opacity="0.5"/>
<rect x="1934.38" y="974.41" width="9.01" height="18.19" fill="#fbea8c"/>
<rect x="1945.00" y="975.36" width="10.71" height="17.24" fill="#fbea8c" opacity="0.5"/>
<rect x="1945.10" y="975.36" width="9.01" height="17.24" fill="#fbea8c"/>
<rect x="1955.71" y="975.36" width="10.71" height="17.24" fill="#fbea8c" opacity="0.5"/>
<rect x="1955.81" y="975.36" width="9.01" height="17.24" fill="#fbea8c"/>
<rect x="1966.42" y="976.31" width="10.71" height="16.29" fill="#fbea8c" opacity="0.5"/>
<rect x="1966.52" y="976.31" width="9.01" height="16.29" fill="#fbea8c"/>
<rect x="1977.14" y="977.26" width="10.71" height="15.34" fill="#fbea8c" opacity="0.5"/>
<rect x="1977.24" y="977.26" width="9.01" height="15.34" fill="#fbea8c"/>
<rect x="1987.85" y="978.21" width="10.71" height="14.39" fill="#fbea8c" opacity="0.5"/>
<rect x="1987.95" y="978.21" width="9.01" height="14.39" fill="#fbea8c"/>
<rect x="1998.56" y="978.21" width="10.71" height="14.39" fill="#fbea8c" opacity="0.5"/>
<rect x="1998.66" y="978.21" width="9.01" height="14.39" fill="#fbea8c"/>
<rect x="2009.28" y="979.16" width="10.71" height="13.44" fill="#fbea8c" opacity="0.5"/>
<rect x="2009.38" y="979.16" width="9.01" height="13.44" fill="#fbea8c"/>
<rect x="2019.99" y="980.11" width="10.71" height="12.49" fill="#fbea8c" opacity="0.5"/>
<rect x="2020.09" y="980.11" width="9.01" height="12.49" fill="#fbea8c"/>
<rect x="2030.70" y="981.06" width="10.71" height="11.54" fill="#fbea8c" opacity="0.5"/>
<rect x="2030.80" y="981.06" width="9.01" height="11.54" fill="#fbea8c"/>
<rect x="2041.42" y="981.06" width="10.71" height="11.54" fill="#fbea8c" opacity="0.5"/>
<rect x="2041.52" y="981.06" width="9.01" height="11.54" fill="#fbea8c"/>
<rect x="2052.13" y="981.06" width="10.71" height="11.54" fill="#fbea8c" opacity="0.5"/>
<rect x="2052.23" y="981.06" width="9.01" height="11.54" fill="#fbea8c"/>
<rect x="2062.84" y="982.01" width="10.71" height="10.59" fill="#fbea8c" opacity="0.5"/>
<rect x="2062.94" y="982.01" width="9.01" height="10.59" fill="#fbea8c"/>
<rect x="2073.56" y="982.01" width="10.71" height="10.59" fill="#fbea8c" opacity="0.5"/>
<rect x="2073.66" y="982.01" width="9.01" height="10.59" fill="#fbea8c"/>
<rect x="2084.27" y="982.96" width="10.71" height="9.64" fill="#fbea8c" opacity="0.5"/>
<rect x="2084.37" y="982.96" width="9.01" height="9.64" fill="#fbea8c"/>
<rect x="2094.98" y="983.91" width="10.71" height="8.69" fill="#fbea8c" opacity="0.5"/>
<rect x="2095.08" y="983.91" width="9.01" height="8.69" fill="#fbea8c"/>
<rect x="2105.70" y="983.91" width="10.71" height="8.69" fill="#fbea8c" opacity="0.5"/>
<rect x="2105.80" y="983.91" width="9.01" height="8.69" fill="#fbea8c"/>
<rect x="2116.41" y="984.86" width="10.71" height="7.74" fill="#fbea8c" opacity="0.5"/>
<rect x="2116.51" y="984.86" width="9.01" height="7.74" fill="#fbea8c"/>
<rect x="2127.12" y="984.86" width="10.71" height="7.74" fill="#fbea8c" opacity="0.5"/>
<rect x="2127.22" y="984.86" width="9.01" height="7.74" fill="#fbea8c"/>
<rect x="2137.84" y="985.81" width="10.71" height="6.79" fill="#fbea8c" opacity="0.5"/>
<rect x="2137.94" y="985.81" width="9.01" height="6.79" fill="#fbea8c"/>
<rect x="2148.55" y="985.81" width="10.71" height="6.79" fill="#fbea8c" opacity="0.5"/>
<rect x="2148.65" y="985.81" width="9.01" height="6.79" fill="#fbea8c"/>
</g>
<g fill="#bdbdbd" opacity="0.72">
<rect x="123.70" y="954.46" width="10.76" height="38.14"/>
<rect x="134.41" y="960.16" width="10.76" height="32.44"/>
<rect x="145.13" y="969.66" width="10.76" height="22.94"/>
<rect x="155.84" y="947.81" width="10.76" height="44.79"/>
<rect x="166.55" y="933.55" width="10.76" height="59.05"/>
<rect x="177.27" y="939.25" width="10.76" height="53.35"/>
<rect x="187.98" y="967.76" width="10.76" height="24.84"/>
<rect x="198.69" y="955.41" width="10.76" height="37.19"/>
<rect x="209.41" y="955.41" width="10.76" height="37.19"/>
<rect x="220.12" y="955.41" width="10.76" height="37.19"/>
<rect x="230.83" y="945.91" width="10.76" height="46.69"/>
<rect x="241.55" y="945.91" width="10.76" height="46.69"/>
<rect x="252.26" y="966.81" width="10.76" height="25.79"/>
<rect x="262.98" y="960.16" width="10.76" height="32.44"/>
<rect x="273.69" y="959.21" width="10.76" height="33.39"/>
<rect x="284.40" y="963.96" width="10.76" height="28.64"/>
<rect x="295.12" y="946.86" width="10.76" height="45.74"/>
<rect x="305.83" y="973.46" width="10.76" height="19.14"/>
<rect x="316.54" y="968.71" width="10.76" height="23.89"/>
<rect x="327.26" y="965.86" width="10.76" height="26.74"/>
<rect x="337.97" y="965.86" width="10.76" height="26.74"/>
<rect x="348.68" y="943.05" width="10.76" height="49.55"/>
<rect x="359.40" y="960.16" width="10.76" height="32.44"/>
<rect x="370.11" y="964.91" width="10.76" height="27.69"/>
<rect x="380.82" y="973.46" width="10.76" height="19.14"/>
<rect x="391.54" y="967.76" width="10.76" height="24.84"/>
<rect x="402.25" y="969.66" width="10.76" height="22.94"/>
<rect x="412.96" y="958.26" width="10.76" height="34.34"/>
<rect x="423.68" y="966.81" width="10.76" height="25.79"/>
<rect x="434.39" y="975.36" width="10.76" height="17.24"/>
<rect x="445.10" y="950.66" width="10.76" height="41.94"/>
<rect x="455.82" y="963.01" width="10.76" height="29.59"/>
<rect x="466.53" y="957.31" width="10.76" height="35.29"/>
<rect x="477.25" y="955.41" width="10.76" height="37.19"/>
<rect x="487.96" y="963.01" width="10.76" height="29.59"/>
<rect x="498.67" y="952.18" width="10.76" height="40.42"/>
<rect x="509.39" y="934.50" width="10.76" height="58.10"/>
<rect x="520.10" y="947.81" width="10.76" height="44.79"/>
<rect x="530.81" y="973.46" width="10.76" height="19.14"/>
<rect x="541.53" y="974.41" width="10.76" height="18.19"/>
<rect x="552.24" y="978.21" width="10.76" height="14.39"/>
<rect x="562.95" y="963.01" width="10.76" height="29.59"/>
<rect x="573.67" y="967.76" width="10.76" height="24.84"/>
<rect x="584.38" y="945.91" width="10.76" height="46.69"/>
<rect x="595.09" y="956.36" width="10.76" height="36.24"/>
<rect x="605.81" y="963.01" width="10.76" height="29.59"/>
<rect x="616.52" y="954.46" width="10.76" height="38.14"/>
<rect x="627.23" y="977.26" width="10.76" height="15.34"/>
<rect x="637.95" y="966.81" width="10.76" height="25.79"/>
<rect x="648.66" y="970.61" width="10.76" height="21.99"/>
<rect x="659.38" y="991.14" width="10.76" height="1.46"/>
<rect x="670.09" y="861.33" width="10.76" height="131.27"/>
<rect x="680.80" y="969.66" width="10.76" height="22.94"/>
<rect x="691.52" y="979.16" width="10.76" height="13.44"/>
<rect x="702.23" y="978.21" width="10.76" height="14.39"/>
<rect x="712.94" y="981.06" width="10.76" height="11.54"/>
<rect x="723.66" y="968.71" width="10.76" height="23.89"/>
<rect x="734.37" y="974.41" width="10.76" height="18.19"/>
<rect x="745.08" y="979.16" width="10.76" height="13.44"/>
<rect x="755.80" y="980.11" width="10.76" height="12.49"/>
<rect x="766.51" y="976.31" width="10.76" height="16.29"/>
<rect x="777.22" y="969.66" width="10.76" height="22.94"/>
<rect x="787.94" y="979.16" width="10.76" height="13.44"/>
<rect x="798.65" y="979.16" width="10.76" height="13.44"/>
<rect x="809.36" y="971.56" width="10.76" height="21.04"/>
<rect x="820.08" y="839.48" width="10.76" height="153.12"/>
<rect x="830.79" y="979.16" width="10.76" height="13.44"/>
<rect x="841.50" y="978.21" width="10.76" height="14.39"/>
<rect x="852.22" y="982.01" width="10.76" height="10.59"/>
<rect x="862.93" y="790.07" width="10.76" height="202.53"/>
<rect x="873.64" y="982.01" width="10.76" height="10.59"/>
<rect x="884.36" y="981.06" width="10.76" height="11.54"/>
<rect x="895.07" y="977.26" width="10.76" height="15.34"/>
<rect x="905.79" y="981.06" width="10.76" height="11.54"/>
<rect x="916.50" y="976.31" width="10.76" height="16.29"/>
<rect x="927.21" y="982.96" width="10.76" height="9.64"/>
<rect x="937.93" y="983.91" width="10.76" height="8.69"/>
<rect x="948.64" y="957.31" width="10.76" height="35.29"/>
<rect x="959.35" y="979.16" width="10.76" height="13.44"/>
<rect x="970.07" y="981.06" width="10.76" height="11.54"/>
<rect x="980.78" y="981.06" width="10.76" height="11.54"/>
<rect x="991.49" y="982.96" width="10.76" height="9.64"/>
<rect x="1002.21" y="969.66" width="10.76" height="22.94"/>
<rect x="1012.92" y="979.16" width="10.76" height="13.44"/>
<rect x="1023.63" y="967.76" width="10.76" height="24.84"/>
<rect x="1034.35" y="980.11" width="10.76" height="12.49"/>
<rect x="1045.06" y="981.06" width="10.76" height="11.54"/>
<rect x="1055.77" y="977.26" width="10.76" height="15.34"/>
<rect x="1066.49" y="981.06" width="10.76" height="11.54"/>
<rect x="1077.20" y="983.91" width="10.76" height="8.69"/>
<rect x="1087.91" y="983.91" width="10.76" height="8.69"/>
<rect x="1098.63" y="983.91" width="10.76" height="8.69"/>
<rect x="1109.34" y="979.16" width="10.76" height="13.44"/>
<rect x="1120.06" y="970.61" width="10.76" height="21.99"/>
<rect x="1130.77" y="982.01" width="10.76" height="10.59"/>
<rect x="1141.48" y="978.21" width="10.76" height="14.39"/>
<rect x="1152.20" y="984.86" width="10.76" height="7.74"/>
<rect x="1162.91" y="984.86" width="10.76" height="7.74"/>
<rect x="1173.62" y="987.72" width="10.76" height="4.88"/>
<rect x="1184.34" y="979.16" width="10.76" height="13.44"/>
<rect x="1195.05" y="978.21" width="10.76" height="14.39"/>
<rect x="1205.76" y="983.91" width="10.76" height="8.69"/>
<rect x="1216.48" y="984.86" width="10.76" height="7.74"/>
<rect x="1227.19" y="983.91" width="10.76" height="8.69"/>
<rect x="1237.90" y="985.81" width="10.76" height="6.79"/>
<rect x="1248.62" y="979.16" width="10.76" height="13.44"/>
<rect x="1259.33" y="956.36" width="10.76" height="36.24"/>
<rect x="1270.04" y="980.11" width="10.76" height="12.49"/>
<rect x="1280.76" y="984.86" width="10.76" height="7.74"/>
<rect x="1291.47" y="981.06" width="10.76" height="11.54"/>
<rect x="1302.18" y="981.06" width="10.76" height="11.54"/>
<rect x="1312.90" y="981.06" width="10.76" height="11.54"/>
<rect x="1323.61" y="981.06" width="10.76" height="11.54"/>
<rect x="1334.33" y="976.31" width="10.76" height="16.29"/>
<rect x="1345.04" y="953.51" width="10.76" height="39.09"/>
<rect x="1355.75" y="984.86" width="10.76" height="7.74"/>
<rect x="1366.47" y="978.21" width="10.76" height="14.39"/>
<rect x="1377.18" y="980.11" width="10.76" height="12.49"/>
<rect x="1387.89" y="987.15" width="10.76" height="5.45"/>
<rect x="1398.61" y="988.29" width="10.76" height="4.31"/>
<rect x="1409.32" y="988.29" width="10.76" height="4.31"/>
<rect x="1420.03" y="982.96" width="10.76" height="9.64"/>
<rect x="1430.75" y="690.40" width="10.76" height="302.20"/>
<rect x="1441.46" y="990.57" width="10.76" height="2.03"/>
<rect x="1452.17" y="737.10" width="10.76" height="255.50"/>
<rect x="1462.89" y="984.86" width="10.76" height="7.74"/>
<rect x="1473.60" y="959.21" width="10.76" height="33.39"/>
<rect x="1484.31" y="962.06" width="10.76" height="30.54"/>
<rect x="1495.03" y="935.45" width="10.76" height="57.15"/>
<rect x="1505.74" y="927.85" width="10.76" height="64.75"/>
<rect x="1516.45" y="954.46" width="10.76" height="38.14"/>
<rect x="1527.17" y="965.86" width="10.76" height="26.74"/>
<rect x="1537.88" y="961.11" width="10.76" height="31.49"/>
<rect x="1548.60" y="966.81" width="10.76" height="25.79"/>
<rect x="1559.31" y="962.06" width="10.76" height="30.54"/>
<rect x="1570.02" y="907.33" width="10.76" height="85.27"/>
<rect x="1580.74" y="972.51" width="10.76" height="20.09"/>
<rect x="1591.45" y="967.76" width="10.76" height="24.84"/>
<rect x="1602.16" y="957.31" width="10.76" height="35.29"/>
<rect x="1612.88" y="956.36" width="10.76" height="36.24"/>
<rect x="1623.59" y="956.36" width="10.76" height="36.24"/>
<rect x="1634.30" y="966.81" width="10.76" height="25.79"/>
<rect x="1645.02" y="830.93" width="10.76" height="161.67"/>
<rect x="1655.73" y="975.36" width="10.76" height="17.24"/>
<rect x="1666.44" y="976.31" width="10.76" height="16.29"/>
<rect x="1677.16" y="962.06" width="10.76" height="30.54"/>
<rect x="1687.87" y="975.36" width="10.76" height="17.24"/>
<rect x="1698.58" y="934.50" width="10.76" height="58.10"/>
<rect x="1709.30" y="911.70" width="10.76" height="80.90"/>
<rect x="1720.01" y="954.46" width="10.76" height="38.14"/>
<rect x="1730.72" y="963.01" width="10.76" height="29.59"/>
<rect x="1741.44" y="978.21" width="10.76" height="14.39"/>
<rect x="1752.15" y="962.06" width="10.76" height="30.54"/>
<rect x="1762.87" y="962.06" width="10.76" height="30.54"/>
<rect x="1773.58" y="975.36" width="10.76" height="17.24"/>
<rect x="1784.29" y="967.76" width="10.76" height="24.84"/>
<rect x="1795.01" y="962.06" width="10.76" height="30.54"/>
<rect x="1805.72" y="979.16" width="10.76" height="13.44"/>
<rect x="1816.43" y="973.46" width="10.76" height="19.14"/>
<rect x="1827.15" y="973.46" width="10.76" height="19.14"/>
<rect x="1837.86" y="967.76" width="10.76" height="24.84"/>
<rect x="1848.57" y="968.71" width="10.76" height="23.89"/>
<rect x="1859.29" y="961.11" width="10.76" height="31.49"/>
<rect x="1870.00" y="957.31" width="10.76" height="35.29"/>
<rect x="1880.71" y="978.21" width="10.76" height="14.39"/>
<rect x="1891.43" y="963.01" width="10.76" height="29.59"/>
<rect x="1902.14" y="982.96" width="10.76" height="9.64"/>
<rect x="1912.85" y="962.06" width="10.76" height="30.54"/>
<rect x="1923.57" y="965.86" width="10.76" height="26.74"/>
<rect x="1934.28" y="962.06" width="10.76" height="30.54"/>
<rect x="1945.00" y="970.61" width="10.76" height="21.99"/>
<rect x="1955.71" y="975.36" width="10.76" height="17.24"/>
<rect x="1966.42" y="970.61" width="10.76" height="21.99"/>
<rect x="1977.14" y="961.11" width="10.76" height="31.49"/>
<rect x="1987.85" y="965.86" width="10.76" height="26.74"/>
<rect x="1998.56" y="977.26" width="10.76" height="15.34"/>
<rect x="2009.28" y="978.21" width="10.76" height="14.39"/>
<rect x="2019.99" y="975.74" width="10.76" height="16.86"/>
<rect x="2030.70" y="965.86" width="10.76" height="26.74"/>
<rect x="2041.42" y="966.81" width="10.76" height="25.79"/>
<rect x="2052.13" y="961.68" width="10.76" height="30.92"/>
<rect x="2062.84" y="965.86" width="10.76" height="26.74"/>
<rect x="2073.56" y="972.51" width="10.76" height="20.09"/>
<rect x="2084.27" y="978.21" width="10.76" height="14.39"/>
<rect x="2094.98" y="982.01" width="10.76" height="10.59"/>
<rect x="2105.70" y="970.61" width="10.76" height="21.99"/>
<rect x="2116.41" y="985.20" width="10.76" height="7.40"/>
<rect x="2127.12" y="978.10" width="10.76" height="14.50"/>
<rect x="2137.84" y="970.10" width="10.76" height="22.50"/>
<rect x="2148.55" y="979.50" width="10.76" height="13.10"/>
</g>
<path d="M120.7 554.8 V992.6" stroke="#080808" stroke-width="3.9" fill="none"/>
<path d="M110.4 580.4 H120.5" stroke="#080808" stroke-width="3.4"/>
<path d="M110.4 717.2 H120.5" stroke="#080808" stroke-width="3.4"/>
<path d="M110.4 854.0 H120.5" stroke="#080808" stroke-width="3.4"/>
<path d="M110.4 990.8 H120.5" stroke="#080808" stroke-width="3.4"/>
<text x="37.3" y="589.3" font-size="27" text-anchor="start" textLength="66.3" lengthAdjust="spacingAndGlyphs" fill="#050505" stroke="#050505" stroke-width="0.95"  >1,500</text>
<text x="37.3" y="725.6" font-size="27" text-anchor="start" textLength="66.3" lengthAdjust="spacingAndGlyphs" fill="#050505" stroke="#050505" stroke-width="0.95"  >1,000</text>
<text x="59.5" y="862.6" font-size="27" text-anchor="start" textLength="44.0" lengthAdjust="spacingAndGlyphs" fill="#050505" stroke="#050505" stroke-width="0.95"  >500</text>
<text x="90.0" y="998.0" font-size="27" text-anchor="start" fill="#050505" stroke="#050505" stroke-width="0.95"  >0</text>
<g transform="translate(20.4 890.9) rotate(-90)">
<text x="0.0" y="0.6" font-size="27.5" text-anchor="start" textLength="210.8" lengthAdjust="spacingAndGlyphs" fill="#050505" stroke="#050505" stroke-width="0.95"  >No. of MSI events</text>
</g>
<path d="M2161.7 656.5 V992.4" stroke="#080808" stroke-width="3.8" fill="none"/>
<path d="M2161 729.6 H2168.6" stroke="#080808" stroke-width="3.2"/>
<path d="M2161 794.9 H2168.6" stroke="#080808" stroke-width="3.2"/>
<path d="M2161 860.2 H2168.6" stroke="#080808" stroke-width="3.2"/>
<path d="M2161 925.3 H2168.6" stroke="#080808" stroke-width="3.2"/>
<path d="M2161 990.6 H2168.6" stroke="#080808" stroke-width="3.2"/>
<text x="2174.8" y="734.5" font-size="27" text-anchor="start" textLength="29.8" lengthAdjust="spacingAndGlyphs" fill="#050505" stroke="#050505" stroke-width="0.95"  >40</text>
<text x="2174.8" y="802.0" font-size="27" text-anchor="start" textLength="29.8" lengthAdjust="spacingAndGlyphs" fill="#050505" stroke="#050505" stroke-width="0.95"  >30</text>
<text x="2174.8" y="867.2" font-size="27" text-anchor="start" textLength="29.8" lengthAdjust="spacingAndGlyphs" fill="#050505" stroke="#050505" stroke-width="0.95"  >20</text>
<text x="2174.8" y="928.8" font-size="27" text-anchor="start" textLength="29.8" lengthAdjust="spacingAndGlyphs" fill="#050505" stroke="#050505" stroke-width="0.95"  >10</text>
<text x="2174.8" y="985.6" font-size="27" text-anchor="start" fill="#050505" stroke="#050505" stroke-width="0.95"  >0</text>
<path d="M536.1 906.0 V939.6" stroke="#050505" stroke-width="4.1"/>
<path d="M536.1 951.6 L530.2 935.6 L536.1 937.6 L542.0 935.6 Z" fill="#050505"/>
<path d="M772.8 856.3 V890.0" stroke="#050505" stroke-width="4.1"/>
<path d="M772.8 902.0 L766.9 886.0 L772.8 888.0 L778.7 886.0 Z" fill="#050505"/>
<path d="M953.8 889.8 V924.4" stroke="#050505" stroke-width="4.1"/>
<path d="M953.8 936.4 L947.9 920.4 L953.8 922.4 L959.7 920.4 Z" fill="#050505"/>
<path d="M1350.0 903.5 V937.7" stroke="#050505" stroke-width="4.1"/>
<path d="M1350.0 949.7 L1344.1 933.7 L1350.0 935.7 L1355.9 933.7 Z" fill="#050505"/>
<path d="M1576.0 851.5 V885.4" stroke="#050505" stroke-width="4.1"/>
<path d="M1576.0 897.4 L1570.1 881.4 L1576.0 883.4 L1581.9 881.4 Z" fill="#050505"/>
<rect x="347.00" y="575.40" width="47.50" height="33.00" fill="#86cb2f" stroke="#4f8426" stroke-width="2.3" />
<text x="406.8" y="598.3" font-size="27.5" text-anchor="start" textLength="287.4" lengthAdjust="spacingAndGlyphs" fill="#050505" stroke="#050505" stroke-width="0.95"  >MSI (coding, frameshft)</text>
<rect x="347.00" y="627.30" width="47.50" height="33.50" fill="#fff" stroke="#585858" stroke-width="2.3" />
<circle cx="369.2" cy="644.5" r="6.8" fill="#000"/>
<text x="406.8" y="654.8" font-size="27.5" text-anchor="start" textLength="389.8" lengthAdjust="spacingAndGlyphs" fill="#050505" stroke="#050505" stroke-width="0.95"  >Deleterious somatic SNV / indel</text>
<rect x="347.00" y="684.30" width="47.50" height="33.50" fill="#fff" stroke="#585858" stroke-width="2.3" />
<rect x="361.60" y="691.20" width="20.30" height="18.90" fill="#e60d0d" />
<text x="406.8" y="707.5" font-size="27.5" text-anchor="start" textLength="401.4" lengthAdjust="spacingAndGlyphs" fill="#050505" stroke="#050505" stroke-width="0.95"  >Deleterious germline SNV / indel</text>
<rect x="347.00" y="745.50" width="47.50" height="33.50" fill="#fff" stroke="#585858" stroke-width="2.3" />
<path d="M369.2 751.2 L382.6 773.1 L355.8 773.1 Z" fill="#0a0af0"/>
<text x="406.8" y="755.9" font-size="27.5" text-anchor="start" textLength="411.3" lengthAdjust="spacingAndGlyphs" fill="#050505" stroke="#050505" stroke-width="0.95"  >Deleterious somatic and germline</text>
<text x="406.8" y="788.7" font-size="27.5" text-anchor="start" textLength="137.8" lengthAdjust="spacingAndGlyphs" fill="#050505" stroke="#050505" stroke-width="0.95"  >SNV / indel</text>
<text x="842.5" y="593.1" font-size="27.5" text-anchor="start" textLength="71.2" lengthAdjust="spacingAndGlyphs" fill="#050505" stroke="#050505" stroke-width="0.95" style="font-style:italic" >MLH1</text>
<text x="923.7" y="593.1" font-size="27.5" text-anchor="start" textLength="138.9" lengthAdjust="spacingAndGlyphs" fill="#050505" stroke="#050505" stroke-width="0.95"  >methylation</text>
<rect x="843.10" y="614.30" width="35.90" height="30.30" fill="#07078c" />
<text x="888.7" y="636.8" font-size="27.5" text-anchor="start" textLength="104.3" lengthAdjust="spacingAndGlyphs" fill="#050505" stroke="#050505" stroke-width="0.95"  >Silenced</text>
<text x="1004.9" y="636.8" font-size="27.5" text-anchor="start" fill="#050505" stroke="#050505" stroke-width="0.95"  >(</text>
<text x="1012.0" y="636.8" font-size="25" text-anchor="start" textLength="13.5" lengthAdjust="spacingAndGlyphs" fill="#333" stroke="#333" stroke-width="0.95" style="font-family:'Liberation Serif',serif;font-style:italic" >&#946;</text>
<text x="1035.8" y="636.8" font-size="27.5" text-anchor="start" fill="#050505" stroke="#050505" stroke-width="0.95"  >&gt;</text>
<text x="1059.2" y="636.8" font-size="27.5" text-anchor="start" textLength="46.7" lengthAdjust="spacingAndGlyphs" fill="#050505" stroke="#050505" stroke-width="0.95"  >0.3)</text>
<rect x="843.90" y="662.00" width="34.30" height="28.60" fill="#d7ab34" stroke="#8a6a20" stroke-width="2.3" />
<text x="888.7" y="686.1" font-size="27.5" text-anchor="start" textLength="152.0" lengthAdjust="spacingAndGlyphs" fill="#050505" stroke="#050505" stroke-width="0.95"  >Not silenced</text>
<rect x="843.90" y="710.30" width="34.30" height="29.70" fill="#fff" stroke="#686868" stroke-width="2.3" />
<text x="888.7" y="736.1" font-size="27.5" text-anchor="start" textLength="157.3" lengthAdjust="spacingAndGlyphs" fill="#050505" stroke="#050505" stroke-width="0.95"  >Not available</text>
<rect x="1133.70" y="575.20" width="34.30" height="29.00" fill="#d0d0d0" stroke="#686868" stroke-width="2.3" />
<text x="1179.0" y="594.6" font-size="27.5" text-anchor="start" textLength="218.6" lengthAdjust="spacingAndGlyphs" fill="#050505" stroke="#050505" stroke-width="0.95"  >Deleterious SNVs</text>
<text x="1179.7" y="629.0" font-size="27.5" text-anchor="start" textLength="315.9" lengthAdjust="spacingAndGlyphs" fill="#050505" stroke="#050505" stroke-width="0.95"  >(missense and nonsense)</text>
<text x="1179.0" y="661.1" font-size="27.5" text-anchor="start" textLength="273.9" lengthAdjust="spacingAndGlyphs" fill="#050505" stroke="#050505" stroke-width="0.95"  >and indels (frameshift)</text>
<text x="1179.0" y="693.0" font-size="27.5" text-anchor="start" textLength="85.6" lengthAdjust="spacingAndGlyphs" fill="#050505" stroke="#050505" stroke-width="0.95"  >per Mb</text>
<text x="1825.1" y="580.1" font-size="27.5" text-anchor="start" textLength="239.4" lengthAdjust="spacingAndGlyphs" fill="#050505" stroke="#050505" stroke-width="0.95"  >190 MSI-H tumours</text>
<rect x="1814.90" y="602.80" width="34.00" height="29.40" fill="#48699a" stroke="#2f4668" stroke-width="2.3" />
<text x="1858.8" y="625.6" font-size="27.5" text-anchor="start" textLength="77.8" lengthAdjust="spacingAndGlyphs" fill="#050505" stroke="#050505" stroke-width="0.95"  >COAD</text>
<rect x="1964.20" y="602.80" width="33.30" height="29.40" fill="#fbec88" stroke="#85794a" stroke-width="2.3" />
<text x="2007.6" y="628.2" font-size="27.5" text-anchor="start" textLength="69.7" lengthAdjust="spacingAndGlyphs" fill="#050505" stroke="#050505" stroke-width="0.95"  >STAD</text>
<rect x="1814.90" y="649.50" width="33.60" height="29.70" fill="#e0a7c1" stroke="#a07a8b" stroke-width="2.3" />
<text x="1859.8" y="673.9" font-size="27.5" text-anchor="start" textLength="73.9" lengthAdjust="spacingAndGlyphs" fill="#050505" stroke="#050505" stroke-width="0.95"  >ESCA</text>
<rect x="1964.20" y="649.50" width="33.30" height="29.70" fill="#85616d" stroke="#5a4049" stroke-width="2.3" />
<text x="2008.6" y="673.9" font-size="27.5" text-anchor="start" textLength="76.9" lengthAdjust="spacingAndGlyphs" fill="#050505" stroke="#050505" stroke-width="0.95"  >UCEC</text>
<rect x="1814.90" y="698.90" width="34.00" height="28.90" fill="#ed8548" stroke="#a85f33" stroke-width="2.3" />
<text x="1859.8" y="722.5" font-size="27.5" text-anchor="start" textLength="74.9" lengthAdjust="spacingAndGlyphs" fill="#050505" stroke="#050505" stroke-width="0.95"  >READ</text>
<g shape-rendering="crispEdges">
<rect x="124.50" y="1000.30" width="685.38" height="35.70" fill="#07078f" />
<rect x="820.58" y="1000.30" width="1338.62" height="35.70" fill="#07078f" />
</g>
<g stroke="#3535b0" stroke-width="0.9" opacity="0.6">
<path d="M135.21 1001.3 V1035.0"/>
<path d="M145.92 1001.3 V1035.0"/>
<path d="M156.63 1001.3 V1035.0"/>
<path d="M167.34 1001.3 V1035.0"/>
<path d="M178.05 1001.3 V1035.0"/>
<path d="M188.75 1001.3 V1035.0"/>
<path d="M199.46 1001.3 V1035.0"/>
<path d="M210.17 1001.3 V1035.0"/>
<path d="M220.88 1001.3 V1035.0"/>
<path d="M231.59 1001.3 V1035.0"/>
<path d="M242.30 1001.3 V1035.0"/>
<path d="M253.01 1001.3 V1035.0"/>
<path d="M263.72 1001.3 V1035.0"/>
<path d="M274.43 1001.3 V1035.0"/>
<path d="M285.13 1001.3 V1035.0"/>
<path d="M295.84 1001.3 V1035.0"/>
<path d="M306.55 1001.3 V1035.0"/>
<path d="M317.26 1001.3 V1035.0"/>
<path d="M327.97 1001.3 V1035.0"/>
<path d="M338.68 1001.3 V1035.0"/>
<path d="M349.39 1001.3 V1035.0"/>
<path d="M360.10 1001.3 V1035.0"/>
<path d="M370.81 1001.3 V1035.0"/>
<path d="M381.52 1001.3 V1035.0"/>
<path d="M392.22 1001.3 V1035.0"/>
<path d="M402.93 1001.3 V1035.0"/>
<path d="M413.64 1001.3 V1035.0"/>
<path d="M424.35 1001.3 V1035.0"/>
<path d="M435.06 1001.3 V1035.0"/>
<path d="M445.77 1001.3 V1035.0"/>
<path d="M456.48 1001.3 V1035.0"/>
<path d="M467.19 1001.3 V1035.0"/>
<path d="M477.90 1001.3 V1035.0"/>
<path d="M488.61 1001.3 V1035.0"/>
<path d="M499.31 1001.3 V1035.0"/>
<path d="M510.02 1001.3 V1035.0"/>
<path d="M520.73 1001.3 V1035.0"/>
<path d="M531.44 1001.3 V1035.0"/>
<path d="M542.15 1001.3 V1035.0"/>
<path d="M552.86 1001.3 V1035.0"/>
<path d="M563.57 1001.3 V1035.0"/>
<path d="M574.28 1001.3 V1035.0"/>
<path d="M584.99 1001.3 V1035.0"/>
<path d="M595.70 1001.3 V1035.0"/>
<path d="M606.40 1001.3 V1035.0"/>
<path d="M617.11 1001.3 V1035.0"/>
<path d="M627.82 1001.3 V1035.0"/>
<path d="M638.53 1001.3 V1035.0"/>
<path d="M649.24 1001.3 V1035.0"/>
<path d="M659.95 1001.3 V1035.0"/>
<path d="M670.66 1001.3 V1035.0"/>
<path d="M681.37 1001.3 V1035.0"/>
<path d="M692.08 1001.3 V1035.0"/>
<path d="M702.79 1001.3 V1035.0"/>
<path d="M713.50 1001.3 V1035.0"/>
<path d="M724.20 1001.3 V1035.0"/>
<path d="M734.91 1001.3 V1035.0"/>
<path d="M745.62 1001.3 V1035.0"/>
<path d="M756.33 1001.3 V1035.0"/>
<path d="M767.04 1001.3 V1035.0"/>
<path d="M777.75 1001.3 V1035.0"/>
<path d="M788.46 1001.3 V1035.0"/>
<path d="M799.17 1001.3 V1035.0"/>
<path d="M831.29 1001.3 V1035.0"/>
<path d="M842.00 1001.3 V1035.0"/>
<path d="M852.71 1001.3 V1035.0"/>
<path d="M863.42 1001.3 V1035.0"/>
<path d="M874.13 1001.3 V1035.0"/>
<path d="M884.84 1001.3 V1035.0"/>
<path d="M895.55 1001.3 V1035.0"/>
<path d="M906.26 1001.3 V1035.0"/>
<path d="M916.97 1001.3 V1035.0"/>
<path d="M927.67 1001.3 V1035.0"/>
<path d="M938.38 1001.3 V1035.0"/>
<path d="M949.09 1001.3 V1035.0"/>
<path d="M959.80 1001.3 V1035.0"/>
<path d="M970.51 1001.3 V1035.0"/>
<path d="M981.22 1001.3 V1035.0"/>
<path d="M991.93 1001.3 V1035.0"/>
<path d="M1002.64 1001.3 V1035.0"/>
<path d="M1013.35 1001.3 V1035.0"/>
<path d="M1024.06 1001.3 V1035.0"/>
<path d="M1034.76 1001.3 V1035.0"/>
<path d="M1045.47 1001.3 V1035.0"/>
<path d="M1056.18 1001.3 V1035.0"/>
<path d="M1066.89 1001.3 V1035.0"/>
<path d="M1077.60 1001.3 V1035.0"/>
<path d="M1088.31 1001.3 V1035.0"/>
<path d="M1099.02 1001.3 V1035.0"/>
<path d="M1109.73 1001.3 V1035.0"/>
<path d="M1120.44 1001.3 V1035.0"/>
<path d="M1131.15 1001.3 V1035.0"/>
<path d="M1141.86 1001.3 V1035.0"/>
<path d="M1152.56 1001.3 V1035.0"/>
<path d="M1163.27 1001.3 V1035.0"/>
<path d="M1173.98 1001.3 V1035.0"/>
<path d="M1184.69 1001.3 V1035.0"/>
<path d="M1195.40 1001.3 V1035.0"/>
<path d="M1206.11 1001.3 V1035.0"/>
<path d="M1216.82 1001.3 V1035.0"/>
<path d="M1227.53 1001.3 V1035.0"/>
<path d="M1238.24 1001.3 V1035.0"/>
<path d="M1248.94 1001.3 V1035.0"/>
<path d="M1259.65 1001.3 V1035.0"/>
<path d="M1270.36 1001.3 V1035.0"/>
<path d="M1281.07 1001.3 V1035.0"/>
<path d="M1291.78 1001.3 V1035.0"/>
<path d="M1302.49 1001.3 V1035.0"/>
<path d="M1313.20 1001.3 V1035.0"/>
<path d="M1323.91 1001.3 V1035.0"/>
<path d="M1334.62 1001.3 V1035.0"/>
<path d="M1345.33 1001.3 V1035.0"/>
<path d="M1356.03 1001.3 V1035.0"/>
<path d="M1366.74 1001.3 V1035.0"/>
<path d="M1377.45 1001.3 V1035.0"/>
<path d="M1388.16 1001.3 V1035.0"/>
<path d="M1398.87 1001.3 V1035.0"/>
<path d="M1409.58 1001.3 V1035.0"/>
<path d="M1420.29 1001.3 V1035.0"/>
<path d="M1431.00 1001.3 V1035.0"/>
<path d="M1441.71 1001.3 V1035.0"/>
<path d="M1452.42 1001.3 V1035.0"/>
<path d="M1463.12 1001.3 V1035.0"/>
<path d="M1473.83 1001.3 V1035.0"/>
<path d="M1484.54 1001.3 V1035.0"/>
<path d="M1495.25 1001.3 V1035.0"/>
<path d="M1505.96 1001.3 V1035.0"/>
<path d="M1516.67 1001.3 V1035.0"/>
<path d="M1527.38 1001.3 V1035.0"/>
<path d="M1538.09 1001.3 V1035.0"/>
<path d="M1548.80 1001.3 V1035.0"/>
<path d="M1559.51 1001.3 V1035.0"/>
<path d="M1570.21 1001.3 V1035.0"/>
<path d="M1580.92 1001.3 V1035.0"/>
<path d="M1591.63 1001.3 V1035.0"/>
<path d="M1602.34 1001.3 V1035.0"/>
<path d="M1613.05 1001.3 V1035.0"/>
<path d="M1623.76 1001.3 V1035.0"/>
<path d="M1634.47 1001.3 V1035.0"/>
<path d="M1645.18 1001.3 V1035.0"/>
<path d="M1655.89 1001.3 V1035.0"/>
<path d="M1666.60 1001.3 V1035.0"/>
<path d="M1677.30 1001.3 V1035.0"/>
<path d="M1688.01 1001.3 V1035.0"/>
<path d="M1698.72 1001.3 V1035.0"/>
<path d="M1709.43 1001.3 V1035.0"/>
<path d="M1720.14 1001.3 V1035.0"/>
<path d="M1730.85 1001.3 V1035.0"/>
<path d="M1741.56 1001.3 V1035.0"/>
<path d="M1752.27 1001.3 V1035.0"/>
<path d="M1762.98 1001.3 V1035.0"/>
<path d="M1773.69 1001.3 V1035.0"/>
<path d="M1784.39 1001.3 V1035.0"/>
<path d="M1795.10 1001.3 V1035.0"/>
<path d="M1805.81 1001.3 V1035.0"/>
<path d="M1816.52 1001.3 V1035.0"/>
<path d="M1827.23 1001.3 V1035.0"/>
<path d="M1837.94 1001.3 V1035.0"/>
<path d="M1848.65 1001.3 V1035.0"/>
<path d="M1859.36 1001.3 V1035.0"/>
<path d="M1870.07 1001.3 V1035.0"/>
<path d="M1880.78 1001.3 V1035.0"/>
<path d="M1891.48 1001.3 V1035.0"/>
<path d="M1902.19 1001.3 V1035.0"/>
<path d="M1912.90 1001.3 V1035.0"/>
<path d="M1923.61 1001.3 V1035.0"/>
<path d="M1934.32 1001.3 V1035.0"/>
<path d="M1945.03 1001.3 V1035.0"/>
<path d="M1955.74 1001.3 V1035.0"/>
<path d="M1966.45 1001.3 V1035.0"/>
<path d="M1977.16 1001.3 V1035.0"/>
<path d="M1987.87 1001.3 V1035.0"/>
<path d="M1998.58 1001.3 V1035.0"/>
<path d="M2009.28 1001.3 V1035.0"/>
<path d="M2019.99 1001.3 V1035.0"/>
<path d="M2030.70 1001.3 V1035.0"/>
<path d="M2041.41 1001.3 V1035.0"/>
<path d="M2052.12 1001.3 V1035.0"/>
<path d="M2062.83 1001.3 V1035.0"/>
<path d="M2073.54 1001.3 V1035.0"/>
<path d="M2084.25 1001.3 V1035.0"/>
<path d="M2094.96 1001.3 V1035.0"/>
<path d="M2105.66 1001.3 V1035.0"/>
<path d="M2116.37 1001.3 V1035.0"/>
<path d="M2127.08 1001.3 V1035.0"/>
<path d="M2137.79 1001.3 V1035.0"/>
<path d="M2148.50 1001.3 V1035.0"/>
</g>
<g shape-rendering="crispEdges">
<rect x="145.62" y="1000.30" width="11.31" height="35.70" fill="#d7ab34" />
<rect x="338.38" y="1000.30" width="11.31" height="35.70" fill="#d7ab34" />
<rect x="402.63" y="1000.30" width="11.31" height="35.70" fill="#d7ab34" />
<rect x="434.76" y="1000.30" width="11.31" height="35.70" fill="#d7ab34" />
<rect x="445.47" y="1000.30" width="11.31" height="35.70" fill="#d7ab34" />
<rect x="456.18" y="1000.30" width="11.31" height="35.70" fill="#d7ab34" />
<rect x="488.31" y="1000.30" width="11.31" height="35.70" fill="#d7ab34" />
<rect x="509.72" y="1000.30" width="11.31" height="35.70" fill="#d7ab34" />
<rect x="520.43" y="1000.30" width="11.31" height="35.70" fill="#d7ab34" />
<rect x="531.14" y="1000.30" width="11.31" height="35.70" fill="#d7ab34" />
<rect x="541.85" y="1000.30" width="11.31" height="35.70" fill="#d7ab34" />
<rect x="584.69" y="1000.30" width="11.31" height="35.70" fill="#d7ab34" />
<rect x="616.81" y="1000.30" width="11.31" height="35.70" fill="#d7ab34" />
<rect x="627.52" y="1000.30" width="11.31" height="35.70" fill="#d7ab34" />
<rect x="638.23" y="1000.30" width="11.31" height="35.70" fill="#d7ab34" />
<rect x="659.65" y="1000.30" width="11.31" height="35.70" fill="#d7ab34" />
<rect x="670.36" y="1000.30" width="11.31" height="35.70" fill="#d7ab34" />
<rect x="681.07" y="1000.30" width="11.31" height="35.70" fill="#d7ab34" />
<rect x="745.32" y="1000.30" width="11.31" height="35.70" fill="#d7ab34" />
<rect x="1120.14" y="1000.30" width="11.31" height="35.70" fill="#d7ab34" />
<rect x="1259.35" y="1000.30" width="11.31" height="35.70" fill="#d7ab34" />
<rect x="1345.03" y="1000.30" width="11.31" height="35.70" fill="#d7ab34" />
<rect x="1430.70" y="1000.30" width="11.31" height="35.70" fill="#d7ab34" />
<rect x="1452.12" y="1000.30" width="11.31" height="35.70" fill="#d7ab34" />
<rect x="1569.91" y="1000.30" width="11.31" height="35.70" fill="#d7ab34" />
<rect x="1623.46" y="1000.30" width="11.31" height="35.70" fill="#d7ab34" />
<rect x="1762.68" y="1000.30" width="11.31" height="35.70" fill="#d7ab34" />
<rect x="1805.51" y="1000.30" width="11.31" height="35.70" fill="#d7ab34" />
<rect x="1826.93" y="1000.30" width="11.31" height="35.70" fill="#d7ab34" />
<rect x="2008.98" y="1000.30" width="11.31" height="35.70" fill="#d7ab34" />
<rect x="2083.95" y="1000.30" width="11.31" height="35.70" fill="#d7ab34" />
<rect x="2116.07" y="1000.30" width="11.31" height="35.70" fill="#d7ab34" />
</g>
<g stroke="#c2c2c2" stroke-width="1.4" fill="none">
<path d="M124.50 1048.4 V1426.2"/>
<path d="M135.21 1048.4 V1426.2"/>
<path d="M145.92 1048.4 V1426.2"/>
<path d="M156.63 1048.4 V1426.2"/>
<path d="M167.34 1048.4 V1426.2"/>
<path d="M178.05 1048.4 V1426.2"/>
<path d="M188.75 1048.4 V1426.2"/>
<path d="M199.46 1048.4 V1426.2"/>
<path d="M210.17 1048.4 V1426.2"/>
<path d="M220.88 1048.4 V1426.2"/>
<path d="M231.59 1048.4 V1426.2"/>
<path d="M242.30 1048.4 V1426.2"/>
<path d="M253.01 1048.4 V1426.2"/>
<path d="M263.72 1048.4 V1426.2"/>
<path d="M274.43 1048.4 V1426.2"/>
<path d="M285.13 1048.4 V1426.2"/>
<path d="M295.84 1048.4 V1426.2"/>
<path d="M306.55 1048.4 V1426.2"/>
<path d="M317.26 1048.4 V1426.2"/>
<path d="M327.97 1048.4 V1426.2"/>
<path d="M338.68 1048.4 V1426.2"/>
<path d="M349.39 1048.4 V1426.2"/>
<path d="M360.10 1048.4 V1426.2"/>
<path d="M370.81 1048.4 V1426.2"/>
<path d="M381.52 1048.4 V1426.2"/>
<path d="M392.22 1048.4 V1426.2"/>
<path d="M402.93 1048.4 V1426.2"/>
<path d="M413.64 1048.4 V1426.2"/>
<path d="M424.35 1048.4 V1426.2"/>
<path d="M435.06 1048.4 V1426.2"/>
<path d="M445.77 1048.4 V1426.2"/>
<path d="M456.48 1048.4 V1426.2"/>
<path d="M467.19 1048.4 V1426.2"/>
<path d="M477.90 1048.4 V1426.2"/>
<path d="M488.61 1048.4 V1426.2"/>
<path d="M499.31 1048.4 V1426.2"/>
<path d="M510.02 1048.4 V1426.2"/>
<path d="M520.73 1048.4 V1426.2"/>
<path d="M531.44 1048.4 V1426.2"/>
<path d="M542.15 1048.4 V1426.2"/>
<path d="M552.86 1048.4 V1426.2"/>
<path d="M563.57 1048.4 V1426.2"/>
<path d="M574.28 1048.4 V1426.2"/>
<path d="M584.99 1048.4 V1426.2"/>
<path d="M595.70 1048.4 V1426.2"/>
<path d="M606.40 1048.4 V1426.2"/>
<path d="M617.11 1048.4 V1426.2"/>
<path d="M627.82 1048.4 V1426.2"/>
<path d="M638.53 1048.4 V1426.2"/>
<path d="M649.24 1048.4 V1426.2"/>
<path d="M659.95 1048.4 V1426.2"/>
<path d="M670.66 1048.4 V1426.2"/>
<path d="M681.37 1048.4 V1426.2"/>
<path d="M692.08 1048.4 V1426.2"/>
<path d="M702.79 1048.4 V1426.2"/>
<path d="M713.50 1048.4 V1426.2"/>
<path d="M724.20 1048.4 V1426.2"/>
<path d="M734.91 1048.4 V1426.2"/>
<path d="M745.62 1048.4 V1426.2"/>
<path d="M756.33 1048.4 V1426.2"/>
<path d="M767.04 1048.4 V1426.2"/>
<path d="M777.75 1048.4 V1426.2"/>
<path d="M788.46 1048.4 V1426.2"/>
<path d="M799.17 1048.4 V1426.2"/>
<path d="M809.88 1048.4 V1426.2"/>
<path d="M820.58 1048.4 V1426.2"/>
<path d="M831.29 1048.4 V1426.2"/>
<path d="M842.00 1048.4 V1426.2"/>
<path d="M852.71 1048.4 V1426.2"/>
<path d="M863.42 1048.4 V1426.2"/>
<path d="M874.13 1048.4 V1426.2"/>
<path d="M884.84 1048.4 V1426.2"/>
<path d="M895.55 1048.4 V1426.2"/>
<path d="M906.26 1048.4 V1426.2"/>
<path d="M916.97 1048.4 V1426.2"/>
<path d="M927.67 1048.4 V1426.2"/>
<path d="M938.38 1048.4 V1426.2"/>
<path d="M949.09 1048.4 V1426.2"/>
<path d="M959.80 1048.4 V1426.2"/>
<path d="M970.51 1048.4 V1426.2"/>
<path d="M981.22 1048.4 V1426.2"/>
<path d="M991.93 1048.4 V1426.2"/>
<path d="M1002.64 1048.4 V1426.2"/>
<path d="M1013.35 1048.4 V1426.2"/>
<path d="M1024.06 1048.4 V1426.2"/>
<path d="M1034.76 1048.4 V1426.2"/>
<path d="M1045.47 1048.4 V1426.2"/>
<path d="M1056.18 1048.4 V1426.2"/>
<path d="M1066.89 1048.4 V1426.2"/>
<path d="M1077.60 1048.4 V1426.2"/>
<path d="M1088.31 1048.4 V1426.2"/>
<path d="M1099.02 1048.4 V1426.2"/>
<path d="M1109.73 1048.4 V1426.2"/>
<path d="M1120.44 1048.4 V1426.2"/>
<path d="M1131.15 1048.4 V1426.2"/>
<path d="M1141.86 1048.4 V1426.2"/>
<path d="M1152.56 1048.4 V1426.2"/>
<path d="M1163.27 1048.4 V1426.2"/>
<path d="M1173.98 1048.4 V1426.2"/>
<path d="M1184.69 1048.4 V1426.2"/>
<path d="M1195.40 1048.4 V1426.2"/>
<path d="M1206.11 1048.4 V1426.2"/>
<path d="M1216.82 1048.4 V1426.2"/>
<path d="M1227.53 1048.4 V1426.2"/>
<path d="M1238.24 1048.4 V1426.2"/>
<path d="M1248.94 1048.4 V1426.2"/>
<path d="M1259.65 1048.4 V1426.2"/>
<path d="M1270.36 1048.4 V1426.2"/>
<path d="M1281.07 1048.4 V1426.2"/>
<path d="M1291.78 1048.4 V1426.2"/>
<path d="M1302.49 1048.4 V1426.2"/>
<path d="M1313.20 1048.4 V1426.2"/>
<path d="M1323.91 1048.4 V1426.2"/>
<path d="M1334.62 1048.4 V1426.2"/>
<path d="M1345.33 1048.4 V1426.2"/>
<path d="M1356.03 1048.4 V1426.2"/>
<path d="M1366.74 1048.4 V1426.2"/>
<path d="M1377.45 1048.4 V1426.2"/>
<path d="M1388.16 1048.4 V1426.2"/>
<path d="M1398.87 1048.4 V1426.2"/>
<path d="M1409.58 1048.4 V1426.2"/>
<path d="M1420.29 1048.4 V1426.2"/>
<path d="M1431.00 1048.4 V1426.2"/>
<path d="M1441.71 1048.4 V1426.2"/>
<path d="M1452.42 1048.4 V1426.2"/>
<path d="M1463.12 1048.4 V1426.2"/>
<path d="M1473.83 1048.4 V1426.2"/>
<path d="M1484.54 1048.4 V1426.2"/>
<path d="M1495.25 1048.4 V1426.2"/>
<path d="M1505.96 1048.4 V1426.2"/>
<path d="M1516.67 1048.4 V1426.2"/>
<path d="M1527.38 1048.4 V1426.2"/>
<path d="M1538.09 1048.4 V1426.2"/>
<path d="M1548.80 1048.4 V1426.2"/>
<path d="M1559.51 1048.4 V1426.2"/>
<path d="M1570.21 1048.4 V1426.2"/>
<path d="M1580.92 1048.4 V1426.2"/>
<path d="M1591.63 1048.4 V1426.2"/>
<path d="M1602.34 1048.4 V1426.2"/>
<path d="M1613.05 1048.4 V1426.2"/>
<path d="M1623.76 1048.4 V1426.2"/>
<path d="M1634.47 1048.4 V1426.2"/>
<path d="M1645.18 1048.4 V1426.2"/>
<path d="M1655.89 1048.4 V1426.2"/>
<path d="M1666.60 1048.4 V1426.2"/>
<path d="M1677.30 1048.4 V1426.2"/>
<path d="M1688.01 1048.4 V1426.2"/>
<path d="M1698.72 1048.4 V1426.2"/>
<path d="M1709.43 1048.4 V1426.2"/>
<path d="M1720.14 1048.4 V1426.2"/>
<path d="M1730.85 1048.4 V1426.2"/>
<path d="M1741.56 1048.4 V1426.2"/>
<path d="M1752.27 1048.4 V1426.2"/>
<path d="M1762.98 1048.4 V1426.2"/>
<path d="M1773.69 1048.4 V1426.2"/>
<path d="M1784.39 1048.4 V1426.2"/>
<path d="M1795.10 1048.4 V1426.2"/>
<path d="M1805.81 1048.4 V1426.2"/>
<path d="M1816.52 1048.4 V1426.2"/>
<path d="M1827.23 1048.4 V1426.2"/>
<path d="M1837.94 1048.4 V1426.2"/>
<path d="M1848.65 1048.4 V1426.2"/>
<path d="M1859.36 1048.4 V1426.2"/>
<path d="M1870.07 1048.4 V1426.2"/>
<path d="M1880.78 1048.4 V1426.2"/>
<path d="M1891.48 1048.4 V1426.2"/>
<path d="M1902.19 1048.4 V1426.2"/>
<path d="M1912.90 1048.4 V1426.2"/>
<path d="M1923.61 1048.4 V1426.2"/>
<path d="M1934.32 1048.4 V1426.2"/>
<path d="M1945.03 1048.4 V1426.2"/>
<path d="M1955.74 1048.4 V1426.2"/>
<path d="M1966.45 1048.4 V1426.2"/>
<path d="M1977.16 1048.4 V1426.2"/>
<path d="M1987.87 1048.4 V1426.2"/>
<path d="M1998.58 1048.4 V1426.2"/>
<path d="M2009.28 1048.4 V1426.2"/>
<path d="M2019.99 1048.4 V1426.2"/>
<path d="M2030.70 1048.4 V1426.2"/>
<path d="M2041.41 1048.4 V1426.2"/>
<path d="M2052.12 1048.4 V1426.2"/>
<path d="M2062.83 1048.4 V1426.2"/>
<path d="M2073.54 1048.4 V1426.2"/>
<path d="M2084.25 1048.4 V1426.2"/>
<path d="M2094.96 1048.4 V1426.2"/>
<path d="M2105.66 1048.4 V1426.2"/>
<path d="M2116.37 1048.4 V1426.2"/>
<path d="M2127.08 1048.4 V1426.2"/>
<path d="M2137.79 1048.4 V1426.2"/>
<path d="M2148.50 1048.4 V1426.2"/>
<path d="M2159.21 1048.4 V1426.2"/>
</g>
<g stroke="#b8b8b8" stroke-width="1.7" fill="none">
<path d="M124.5 1048.4 H2159.2"/>
<path d="M124.5 1081.0 H2159.2"/>
<path d="M124.5 1113.7 H2159.2"/>
<path d="M124.5 1146.4 H2159.2"/>
<path d="M124.5 1179.1 H2159.2"/>
<path d="M124.5 1211.6 H2159.2"/>
<path d="M124.5 1244.2 H2159.2"/>
<path d="M124.5 1277.0 H2159.2"/>
<path d="M124.5 1309.7 H2159.2"/>
<path d="M124.5 1342.2 H2159.2"/>
<path d="M124.5 1370.1 H2159.2"/>
<path d="M124.5 1397.6 H2159.2"/>
<path d="M124.5 1426.2 H2159.2"/>
</g>
<g fill="#86cb32" shape-rendering="crispEdges">
<rect x="188.45" y="1047.80" width="22.02" height="33.80"/>
<rect x="263.42" y="1047.80" width="11.31" height="33.80"/>
<rect x="434.76" y="1047.80" width="22.02" height="33.80"/>
<rect x="209.87" y="1080.40" width="11.31" height="33.90"/>
<rect x="306.25" y="1080.40" width="11.31" height="33.90"/>
<rect x="381.22" y="1080.40" width="11.31" height="33.90"/>
<rect x="702.49" y="1080.40" width="11.31" height="33.90"/>
<rect x="820.28" y="1080.40" width="11.31" height="33.90"/>
<rect x="841.70" y="1080.40" width="11.31" height="33.90"/>
<rect x="895.25" y="1080.40" width="11.31" height="33.90"/>
<rect x="1505.66" y="1080.40" width="11.31" height="33.90"/>
<rect x="1537.79" y="1080.40" width="22.02" height="33.90"/>
<rect x="1569.91" y="1080.40" width="11.31" height="33.90"/>
<rect x="1762.68" y="1080.40" width="11.31" height="33.90"/>
<rect x="1794.80" y="1080.40" width="11.31" height="33.90"/>
<rect x="1826.93" y="1080.40" width="11.31" height="33.90"/>
<rect x="156.33" y="1145.80" width="32.73" height="33.90"/>
<rect x="199.16" y="1145.80" width="11.31" height="33.90"/>
<rect x="220.58" y="1145.80" width="22.02" height="33.90"/>
<rect x="295.54" y="1145.80" width="11.31" height="33.90"/>
<rect x="316.96" y="1145.80" width="11.31" height="33.90"/>
<rect x="338.38" y="1145.80" width="11.31" height="33.90"/>
<rect x="370.51" y="1145.80" width="11.31" height="33.90"/>
<rect x="413.34" y="1145.80" width="11.31" height="33.90"/>
<rect x="445.47" y="1145.80" width="11.31" height="33.90"/>
<rect x="499.01" y="1145.80" width="11.31" height="33.90"/>
<rect x="648.94" y="1145.80" width="11.31" height="33.90"/>
<rect x="670.36" y="1145.80" width="11.31" height="33.90"/>
<rect x="723.90" y="1145.80" width="11.31" height="33.90"/>
<rect x="788.16" y="1145.80" width="32.73" height="33.90"/>
<rect x="841.70" y="1145.80" width="11.31" height="33.90"/>
<rect x="916.67" y="1145.80" width="32.73" height="33.90"/>
<rect x="959.50" y="1145.80" width="11.31" height="33.90"/>
<rect x="1013.05" y="1145.80" width="11.31" height="33.90"/>
<rect x="1205.81" y="1145.80" width="11.31" height="33.90"/>
<rect x="1387.86" y="1145.80" width="11.31" height="33.90"/>
<rect x="1484.24" y="1145.80" width="86.27" height="33.90"/>
<rect x="1580.62" y="1145.80" width="11.31" height="33.90"/>
<rect x="1612.75" y="1145.80" width="32.73" height="33.90"/>
<rect x="1655.59" y="1145.80" width="43.44" height="33.90"/>
<rect x="1751.97" y="1145.80" width="22.02" height="33.90"/>
<rect x="1784.10" y="1145.80" width="54.15" height="33.90"/>
<rect x="1869.77" y="1145.80" width="11.31" height="33.90"/>
<rect x="1912.60" y="1145.80" width="11.31" height="33.90"/>
<rect x="1987.57" y="1145.80" width="11.31" height="33.90"/>
<rect x="2030.40" y="1145.80" width="11.31" height="33.90"/>
<rect x="2051.82" y="1145.80" width="22.02" height="33.90"/>
<rect x="188.45" y="1178.50" width="11.31" height="33.70"/>
<rect x="295.54" y="1178.50" width="11.31" height="33.70"/>
<rect x="338.38" y="1178.50" width="11.31" height="33.70"/>
<rect x="552.56" y="1178.50" width="11.31" height="33.70"/>
<rect x="723.90" y="1178.50" width="11.31" height="33.70"/>
<rect x="766.74" y="1178.50" width="11.31" height="33.70"/>
<rect x="820.28" y="1178.50" width="11.31" height="33.70"/>
<rect x="852.41" y="1178.50" width="11.31" height="33.70"/>
<rect x="948.79" y="1178.50" width="11.31" height="33.70"/>
<rect x="1013.05" y="1178.50" width="11.31" height="33.70"/>
<rect x="1045.17" y="1178.50" width="11.31" height="33.70"/>
<rect x="1098.72" y="1178.50" width="11.31" height="33.70"/>
<rect x="1152.26" y="1178.50" width="22.02" height="33.70"/>
<rect x="1462.83" y="1178.50" width="11.31" height="33.70"/>
<rect x="1494.95" y="1178.50" width="32.73" height="33.70"/>
<rect x="1623.46" y="1178.50" width="11.31" height="33.70"/>
<rect x="1805.51" y="1178.50" width="11.31" height="33.70"/>
<rect x="466.89" y="1211.00" width="11.31" height="33.80"/>
<rect x="1173.68" y="1211.00" width="11.31" height="33.80"/>
<rect x="916.67" y="1243.60" width="11.31" height="34.00"/>
<rect x="681.07" y="1309.10" width="11.31" height="33.70"/>
<rect x="1494.95" y="1309.10" width="11.31" height="33.70"/>
<rect x="1559.21" y="1309.10" width="11.31" height="33.70"/>
<rect x="242.00" y="1341.60" width="11.31" height="29.10"/>
<rect x="284.83" y="1341.60" width="22.02" height="29.10"/>
<rect x="381.22" y="1341.60" width="11.31" height="29.10"/>
<rect x="488.31" y="1341.60" width="11.31" height="29.10"/>
<rect x="509.72" y="1341.60" width="11.31" height="29.10"/>
<rect x="713.20" y="1341.60" width="22.02" height="29.10"/>
<rect x="1023.76" y="1341.60" width="11.31" height="29.10"/>
<rect x="1216.52" y="1341.60" width="32.73" height="29.10"/>
<rect x="1259.35" y="1341.60" width="11.31" height="29.10"/>
<rect x="1355.73" y="1341.60" width="11.31" height="29.10"/>
<rect x="1398.57" y="1341.60" width="22.02" height="29.10"/>
<rect x="1452.12" y="1341.60" width="11.31" height="29.10"/>
<rect x="1473.53" y="1341.60" width="11.31" height="29.10"/>
<rect x="1494.95" y="1341.60" width="11.31" height="29.10"/>
<rect x="1527.08" y="1341.60" width="11.31" height="29.10"/>
<rect x="1580.62" y="1341.60" width="11.31" height="29.10"/>
<rect x="1805.51" y="1341.60" width="11.31" height="29.10"/>
<rect x="1934.02" y="1341.60" width="11.31" height="29.10"/>
<rect x="177.75" y="1369.50" width="11.31" height="28.70"/>
<rect x="381.22" y="1369.50" width="11.31" height="28.70"/>
<rect x="477.60" y="1369.50" width="11.31" height="28.70"/>
<rect x="713.20" y="1369.50" width="11.31" height="28.70"/>
<rect x="895.25" y="1369.50" width="11.31" height="28.70"/>
<rect x="927.38" y="1369.50" width="11.31" height="28.70"/>
<rect x="670.36" y="1397.00" width="32.73" height="29.80"/>
<rect x="1013.05" y="1397.00" width="11.31" height="29.80"/>
</g>
<g fill="#050505">
<circle cx="194.11" cy="1065.10" r="4.7"/>
<circle cx="204.82" cy="1065.10" r="4.7"/>
<circle cx="269.07" cy="1065.10" r="4.7"/>
<circle cx="344.03" cy="1065.10" r="4.7"/>
<circle cx="354.74" cy="1065.10" r="4.7"/>
<circle cx="419.00" cy="1065.10" r="4.7"/>
<circle cx="440.42" cy="1065.10" r="4.7"/>
<circle cx="590.34" cy="1065.10" r="4.7"/>
<circle cx="633.18" cy="1065.10" r="4.7"/>
<circle cx="676.01" cy="1065.10" r="4.7"/>
<circle cx="686.72" cy="1065.10" r="4.7"/>
<circle cx="729.56" cy="1065.10" r="4.7"/>
<circle cx="804.52" cy="1065.10" r="4.7"/>
<circle cx="1361.39" cy="1065.10" r="4.7"/>
<circle cx="1414.93" cy="1065.10" r="4.7"/>
<circle cx="1425.64" cy="1065.10" r="4.7"/>
<circle cx="1457.77" cy="1065.10" r="4.7"/>
<circle cx="1500.61" cy="1065.10" r="4.7"/>
<circle cx="1629.11" cy="1065.10" r="4.7"/>
<circle cx="1768.33" cy="1065.10" r="4.7"/>
<circle cx="1832.59" cy="1065.10" r="4.7"/>
<circle cx="1854.00" cy="1065.10" r="4.7"/>
<circle cx="2057.47" cy="1065.10" r="4.7"/>
<circle cx="2100.31" cy="1065.10" r="4.7"/>
<circle cx="172.69" cy="1097.75" r="4.7"/>
<circle cx="247.65" cy="1097.75" r="4.7"/>
<circle cx="279.78" cy="1097.75" r="4.7"/>
<circle cx="301.20" cy="1097.75" r="4.7"/>
<circle cx="408.29" cy="1097.75" r="4.7"/>
<circle cx="429.71" cy="1097.75" r="4.7"/>
<circle cx="493.96" cy="1097.75" r="4.7"/>
<circle cx="676.01" cy="1097.75" r="4.7"/>
<circle cx="729.56" cy="1097.75" r="4.7"/>
<circle cx="825.94" cy="1097.75" r="4.7"/>
<circle cx="847.36" cy="1097.75" r="4.7"/>
<circle cx="868.78" cy="1097.75" r="4.7"/>
<circle cx="1040.12" cy="1097.75" r="4.7"/>
<circle cx="1190.05" cy="1097.75" r="4.7"/>
<circle cx="1200.75" cy="1097.75" r="4.7"/>
<circle cx="1265.01" cy="1097.75" r="4.7"/>
<circle cx="1372.10" cy="1097.75" r="4.7"/>
<circle cx="1436.35" cy="1097.75" r="4.7"/>
<circle cx="1489.90" cy="1097.75" r="4.7"/>
<circle cx="1575.57" cy="1097.75" r="4.7"/>
<circle cx="1650.53" cy="1097.75" r="4.7"/>
<circle cx="1714.79" cy="1097.75" r="4.7"/>
<circle cx="1725.50" cy="1097.75" r="4.7"/>
<circle cx="1736.20" cy="1097.75" r="4.7"/>
<circle cx="1768.33" cy="1097.75" r="4.7"/>
<circle cx="1800.46" cy="1097.75" r="4.7"/>
<circle cx="1832.59" cy="1097.75" r="4.7"/>
<circle cx="1939.68" cy="1097.75" r="4.7"/>
<circle cx="1993.22" cy="1097.75" r="4.7"/>
<circle cx="204.82" cy="1130.45" r="4.7"/>
<circle cx="301.20" cy="1130.45" r="4.7"/>
<circle cx="440.42" cy="1130.45" r="4.7"/>
<circle cx="483.25" cy="1130.45" r="4.7"/>
<circle cx="493.96" cy="1130.45" r="4.7"/>
<circle cx="515.38" cy="1130.45" r="4.7"/>
<circle cx="526.09" cy="1130.45" r="4.7"/>
<circle cx="547.51" cy="1130.45" r="4.7"/>
<circle cx="568.92" cy="1130.45" r="4.7"/>
<circle cx="643.89" cy="1130.45" r="4.7"/>
<circle cx="815.23" cy="1130.45" r="4.7"/>
<circle cx="825.94" cy="1130.45" r="4.7"/>
<circle cx="1457.77" cy="1130.45" r="4.7"/>
<circle cx="1575.57" cy="1130.45" r="4.7"/>
<circle cx="1671.95" cy="1130.45" r="4.7"/>
<circle cx="1789.75" cy="1130.45" r="4.7"/>
<circle cx="2036.06" cy="1130.45" r="4.7"/>
<circle cx="2121.73" cy="1130.45" r="4.7"/>
<circle cx="204.82" cy="1163.15" r="4.7"/>
<circle cx="215.53" cy="1163.15" r="4.7"/>
<circle cx="236.94" cy="1163.15" r="4.7"/>
<circle cx="301.20" cy="1163.15" r="4.7"/>
<circle cx="408.29" cy="1163.15" r="4.7"/>
<circle cx="579.63" cy="1163.15" r="4.7"/>
<circle cx="676.01" cy="1163.15" r="4.7"/>
<circle cx="804.52" cy="1163.15" r="4.7"/>
<circle cx="815.23" cy="1163.15" r="4.7"/>
<circle cx="825.94" cy="1163.15" r="4.7"/>
<circle cx="922.32" cy="1163.15" r="4.7"/>
<circle cx="933.03" cy="1163.15" r="4.7"/>
<circle cx="1018.70" cy="1163.15" r="4.7"/>
<circle cx="1500.61" cy="1163.15" r="4.7"/>
<circle cx="1522.02" cy="1163.15" r="4.7"/>
<circle cx="1575.57" cy="1163.15" r="4.7"/>
<circle cx="1586.28" cy="1163.15" r="4.7"/>
<circle cx="1650.53" cy="1163.15" r="4.7"/>
<circle cx="1693.37" cy="1163.15" r="4.7"/>
<circle cx="1757.62" cy="1163.15" r="4.7"/>
<circle cx="1768.33" cy="1163.15" r="4.7"/>
<circle cx="1875.42" cy="1163.15" r="4.7"/>
<circle cx="1971.80" cy="1163.15" r="4.7"/>
<circle cx="1982.51" cy="1163.15" r="4.7"/>
<circle cx="2046.77" cy="1163.15" r="4.7"/>
<circle cx="2100.31" cy="1163.15" r="4.7"/>
<circle cx="2143.15" cy="1163.15" r="4.7"/>
<circle cx="2153.86" cy="1163.15" r="4.7"/>
<circle cx="129.85" cy="1195.75" r="4.7"/>
<circle cx="140.56" cy="1195.75" r="4.7"/>
<circle cx="172.69" cy="1195.75" r="4.7"/>
<circle cx="183.40" cy="1195.75" r="4.7"/>
<circle cx="215.53" cy="1195.75" r="4.7"/>
<circle cx="322.62" cy="1195.75" r="4.7"/>
<circle cx="333.33" cy="1195.75" r="4.7"/>
<circle cx="354.74" cy="1195.75" r="4.7"/>
<circle cx="515.38" cy="1195.75" r="4.7"/>
<circle cx="568.92" cy="1195.75" r="4.7"/>
<circle cx="676.01" cy="1195.75" r="4.7"/>
<circle cx="750.98" cy="1195.75" r="4.7"/>
<circle cx="761.69" cy="1195.75" r="4.7"/>
<circle cx="868.78" cy="1195.75" r="4.7"/>
<circle cx="1061.54" cy="1195.75" r="4.7"/>
<circle cx="1125.79" cy="1195.75" r="4.7"/>
<circle cx="1136.50" cy="1195.75" r="4.7"/>
<circle cx="1275.72" cy="1195.75" r="4.7"/>
<circle cx="1436.35" cy="1195.75" r="4.7"/>
<circle cx="1457.77" cy="1195.75" r="4.7"/>
<circle cx="1500.61" cy="1195.75" r="4.7"/>
<circle cx="1607.70" cy="1195.75" r="4.7"/>
<circle cx="1704.08" cy="1195.75" r="4.7"/>
<circle cx="1725.50" cy="1195.75" r="4.7"/>
<circle cx="1736.20" cy="1195.75" r="4.7"/>
<circle cx="1800.46" cy="1195.75" r="4.7"/>
<circle cx="1854.00" cy="1195.75" r="4.7"/>
<circle cx="2078.89" cy="1195.75" r="4.7"/>
<circle cx="2153.86" cy="1195.75" r="4.7"/>
<circle cx="247.65" cy="1228.30" r="4.7"/>
<circle cx="451.12" cy="1228.30" r="4.7"/>
<circle cx="633.18" cy="1228.30" r="4.7"/>
<circle cx="858.07" cy="1228.30" r="4.7"/>
<circle cx="868.78" cy="1228.30" r="4.7"/>
<circle cx="1179.34" cy="1228.30" r="4.7"/>
<circle cx="1436.35" cy="1228.30" r="4.7"/>
<circle cx="1693.37" cy="1228.30" r="4.7"/>
<circle cx="1704.08" cy="1228.30" r="4.7"/>
<circle cx="1714.79" cy="1228.30" r="4.7"/>
<circle cx="1864.71" cy="1228.30" r="4.7"/>
<circle cx="311.91" cy="1261.00" r="4.7"/>
<circle cx="354.74" cy="1261.00" r="4.7"/>
<circle cx="515.38" cy="1261.00" r="4.7"/>
<circle cx="740.27" cy="1261.00" r="4.7"/>
<circle cx="922.32" cy="1261.00" r="4.7"/>
<circle cx="1072.25" cy="1261.00" r="4.7"/>
<circle cx="1157.92" cy="1261.00" r="4.7"/>
<circle cx="1265.01" cy="1261.00" r="4.7"/>
<circle cx="1457.77" cy="1261.00" r="4.7"/>
<circle cx="1500.61" cy="1261.00" r="4.7"/>
<circle cx="1693.37" cy="1261.00" r="4.7"/>
<circle cx="1896.84" cy="1261.00" r="4.7"/>
<circle cx="2025.35" cy="1261.00" r="4.7"/>
<circle cx="129.85" cy="1293.75" r="4.7"/>
<circle cx="161.98" cy="1293.75" r="4.7"/>
<circle cx="172.69" cy="1293.75" r="4.7"/>
<circle cx="183.40" cy="1293.75" r="4.7"/>
<circle cx="226.24" cy="1293.75" r="4.7"/>
<circle cx="236.94" cy="1293.75" r="4.7"/>
<circle cx="247.65" cy="1293.75" r="4.7"/>
<circle cx="258.36" cy="1293.75" r="4.7"/>
<circle cx="279.78" cy="1293.75" r="4.7"/>
<circle cx="311.91" cy="1293.75" r="4.7"/>
<circle cx="344.03" cy="1293.75" r="4.7"/>
<circle cx="365.45" cy="1293.75" r="4.7"/>
<circle cx="429.71" cy="1293.75" r="4.7"/>
<circle cx="483.25" cy="1293.75" r="4.7"/>
<circle cx="493.96" cy="1293.75" r="4.7"/>
<circle cx="515.38" cy="1293.75" r="4.7"/>
<circle cx="526.09" cy="1293.75" r="4.7"/>
<circle cx="547.51" cy="1293.75" r="4.7"/>
<circle cx="568.92" cy="1293.75" r="4.7"/>
<circle cx="654.60" cy="1293.75" r="4.7"/>
<circle cx="676.01" cy="1293.75" r="4.7"/>
<circle cx="686.72" cy="1293.75" r="4.7"/>
<circle cx="772.39" cy="1293.75" r="4.7"/>
<circle cx="975.87" cy="1293.75" r="4.7"/>
<circle cx="1018.70" cy="1293.75" r="4.7"/>
<circle cx="1050.83" cy="1293.75" r="4.7"/>
<circle cx="1275.72" cy="1293.75" r="4.7"/>
<circle cx="1350.68" cy="1293.75" r="4.7"/>
<circle cx="1404.23" cy="1293.75" r="4.7"/>
<circle cx="1436.35" cy="1293.75" r="4.7"/>
<circle cx="1511.32" cy="1293.75" r="4.7"/>
<circle cx="1554.15" cy="1293.75" r="4.7"/>
<circle cx="1575.57" cy="1293.75" r="4.7"/>
<circle cx="1607.70" cy="1293.75" r="4.7"/>
<circle cx="1650.53" cy="1293.75" r="4.7"/>
<circle cx="1768.33" cy="1293.75" r="4.7"/>
<circle cx="1800.46" cy="1293.75" r="4.7"/>
<circle cx="1811.17" cy="1293.75" r="4.7"/>
<circle cx="1939.68" cy="1293.75" r="4.7"/>
<circle cx="1982.51" cy="1293.75" r="4.7"/>
<circle cx="2014.64" cy="1293.75" r="4.7"/>
<circle cx="129.85" cy="1326.35" r="4.7"/>
<circle cx="140.56" cy="1326.35" r="4.7"/>
<circle cx="172.69" cy="1326.35" r="4.7"/>
<circle cx="183.40" cy="1326.35" r="4.7"/>
<circle cx="215.53" cy="1326.35" r="4.7"/>
<circle cx="236.94" cy="1326.35" r="4.7"/>
<circle cx="279.78" cy="1326.35" r="4.7"/>
<circle cx="290.49" cy="1326.35" r="4.7"/>
<circle cx="397.58" cy="1326.35" r="4.7"/>
<circle cx="451.12" cy="1326.35" r="4.7"/>
<circle cx="483.25" cy="1326.35" r="4.7"/>
<circle cx="493.96" cy="1326.35" r="4.7"/>
<circle cx="515.38" cy="1326.35" r="4.7"/>
<circle cx="526.09" cy="1326.35" r="4.7"/>
<circle cx="558.21" cy="1326.35" r="4.7"/>
<circle cx="643.89" cy="1326.35" r="4.7"/>
<circle cx="676.01" cy="1326.35" r="4.7"/>
<circle cx="686.72" cy="1326.35" r="4.7"/>
<circle cx="729.56" cy="1326.35" r="4.7"/>
<circle cx="825.94" cy="1326.35" r="4.7"/>
<circle cx="868.78" cy="1326.35" r="4.7"/>
<circle cx="911.61" cy="1326.35" r="4.7"/>
<circle cx="1318.55" cy="1326.35" r="4.7"/>
<circle cx="1350.68" cy="1326.35" r="4.7"/>
<circle cx="1372.10" cy="1326.35" r="4.7"/>
<circle cx="1436.35" cy="1326.35" r="4.7"/>
<circle cx="1457.77" cy="1326.35" r="4.7"/>
<circle cx="1479.19" cy="1326.35" r="4.7"/>
<circle cx="1489.90" cy="1326.35" r="4.7"/>
<circle cx="1500.61" cy="1326.35" r="4.7"/>
<circle cx="1564.86" cy="1326.35" r="4.7"/>
<circle cx="1575.57" cy="1326.35" r="4.7"/>
<circle cx="1607.70" cy="1326.35" r="4.7"/>
<circle cx="1618.41" cy="1326.35" r="4.7"/>
<circle cx="1639.82" cy="1326.35" r="4.7"/>
<circle cx="1650.53" cy="1326.35" r="4.7"/>
<circle cx="1682.66" cy="1326.35" r="4.7"/>
<circle cx="1704.08" cy="1326.35" r="4.7"/>
<circle cx="1725.50" cy="1326.35" r="4.7"/>
<circle cx="1768.33" cy="1326.35" r="4.7"/>
<circle cx="1886.13" cy="1326.35" r="4.7"/>
<circle cx="1896.84" cy="1326.35" r="4.7"/>
<circle cx="1939.68" cy="1326.35" r="4.7"/>
<circle cx="2089.60" cy="1326.35" r="4.7"/>
<circle cx="2153.86" cy="1326.35" r="4.7"/>
<circle cx="129.85" cy="1356.55" r="4.7"/>
<circle cx="140.56" cy="1356.55" r="4.7"/>
<circle cx="151.27" cy="1356.55" r="4.7"/>
<circle cx="258.36" cy="1356.55" r="4.7"/>
<circle cx="269.07" cy="1356.55" r="4.7"/>
<circle cx="279.78" cy="1356.55" r="4.7"/>
<circle cx="290.49" cy="1356.55" r="4.7"/>
<circle cx="301.20" cy="1356.55" r="4.7"/>
<circle cx="322.62" cy="1356.55" r="4.7"/>
<circle cx="333.33" cy="1356.55" r="4.7"/>
<circle cx="344.03" cy="1356.55" r="4.7"/>
<circle cx="386.87" cy="1356.55" r="4.7"/>
<circle cx="397.58" cy="1356.55" r="4.7"/>
<circle cx="408.29" cy="1356.55" r="4.7"/>
<circle cx="429.71" cy="1356.55" r="4.7"/>
<circle cx="440.42" cy="1356.55" r="4.7"/>
<circle cx="451.12" cy="1356.55" r="4.7"/>
<circle cx="493.96" cy="1356.55" r="4.7"/>
<circle cx="526.09" cy="1356.55" r="4.7"/>
<circle cx="536.80" cy="1356.55" r="4.7"/>
<circle cx="568.92" cy="1356.55" r="4.7"/>
<circle cx="579.63" cy="1356.55" r="4.7"/>
<circle cx="611.76" cy="1356.55" r="4.7"/>
<circle cx="622.47" cy="1356.55" r="4.7"/>
<circle cx="676.01" cy="1356.55" r="4.7"/>
<circle cx="718.85" cy="1356.55" r="4.7"/>
<circle cx="761.69" cy="1356.55" r="4.7"/>
<circle cx="793.81" cy="1356.55" r="4.7"/>
<circle cx="858.07" cy="1356.55" r="4.7"/>
<circle cx="868.78" cy="1356.55" r="4.7"/>
<circle cx="879.48" cy="1356.55" r="4.7"/>
<circle cx="933.03" cy="1356.55" r="4.7"/>
<circle cx="975.87" cy="1356.55" r="4.7"/>
<circle cx="997.28" cy="1356.55" r="4.7"/>
<circle cx="1007.99" cy="1356.55" r="4.7"/>
<circle cx="1029.41" cy="1356.55" r="4.7"/>
<circle cx="1050.83" cy="1356.55" r="4.7"/>
<circle cx="1093.66" cy="1356.55" r="4.7"/>
<circle cx="1147.21" cy="1356.55" r="4.7"/>
<circle cx="1157.92" cy="1356.55" r="4.7"/>
<circle cx="1179.34" cy="1356.55" r="4.7"/>
<circle cx="1190.05" cy="1356.55" r="4.7"/>
<circle cx="1232.88" cy="1356.55" r="4.7"/>
<circle cx="1243.59" cy="1356.55" r="4.7"/>
<circle cx="1265.01" cy="1356.55" r="4.7"/>
<circle cx="1297.14" cy="1356.55" r="4.7"/>
<circle cx="1318.55" cy="1356.55" r="4.7"/>
<circle cx="1350.68" cy="1356.55" r="4.7"/>
<circle cx="1361.39" cy="1356.55" r="4.7"/>
<circle cx="1382.81" cy="1356.55" r="4.7"/>
<circle cx="1393.52" cy="1356.55" r="4.7"/>
<circle cx="1404.23" cy="1356.55" r="4.7"/>
<circle cx="1414.93" cy="1356.55" r="4.7"/>
<circle cx="1500.61" cy="1356.55" r="4.7"/>
<circle cx="1532.73" cy="1356.55" r="4.7"/>
<circle cx="1564.86" cy="1356.55" r="4.7"/>
<circle cx="1596.99" cy="1356.55" r="4.7"/>
<circle cx="1671.95" cy="1356.55" r="4.7"/>
<circle cx="1725.50" cy="1356.55" r="4.7"/>
<circle cx="1832.59" cy="1356.55" r="4.7"/>
<circle cx="1854.00" cy="1356.55" r="4.7"/>
<circle cx="1864.71" cy="1356.55" r="4.7"/>
<circle cx="1875.42" cy="1356.55" r="4.7"/>
<circle cx="1886.13" cy="1356.55" r="4.7"/>
<circle cx="1896.84" cy="1356.55" r="4.7"/>
<circle cx="1918.26" cy="1356.55" r="4.7"/>
<circle cx="1939.68" cy="1356.55" r="4.7"/>
<circle cx="1961.09" cy="1356.55" r="4.7"/>
<circle cx="1993.22" cy="1356.55" r="4.7"/>
<circle cx="2025.35" cy="1356.55" r="4.7"/>
<circle cx="2046.77" cy="1356.55" r="4.7"/>
<circle cx="2057.47" cy="1356.55" r="4.7"/>
<circle cx="2100.31" cy="1356.55" r="4.7"/>
<circle cx="2111.02" cy="1356.55" r="4.7"/>
<circle cx="2121.73" cy="1356.55" r="4.7"/>
<circle cx="2132.44" cy="1356.55" r="4.7"/>
<circle cx="2153.86" cy="1356.55" r="4.7"/>
<circle cx="183.40" cy="1384.25" r="4.7"/>
<circle cx="226.24" cy="1384.25" r="4.7"/>
<circle cx="279.78" cy="1384.25" r="4.7"/>
<circle cx="290.49" cy="1384.25" r="4.7"/>
<circle cx="354.74" cy="1384.25" r="4.7"/>
<circle cx="365.45" cy="1384.25" r="4.7"/>
<circle cx="386.87" cy="1384.25" r="4.7"/>
<circle cx="408.29" cy="1384.25" r="4.7"/>
<circle cx="440.42" cy="1384.25" r="4.7"/>
<circle cx="451.12" cy="1384.25" r="4.7"/>
<circle cx="461.83" cy="1384.25" r="4.7"/>
<circle cx="515.38" cy="1384.25" r="4.7"/>
<circle cx="526.09" cy="1384.25" r="4.7"/>
<circle cx="536.80" cy="1384.25" r="4.7"/>
<circle cx="579.63" cy="1384.25" r="4.7"/>
<circle cx="590.34" cy="1384.25" r="4.7"/>
<circle cx="611.76" cy="1384.25" r="4.7"/>
<circle cx="643.89" cy="1384.25" r="4.7"/>
<circle cx="665.30" cy="1384.25" r="4.7"/>
<circle cx="676.01" cy="1384.25" r="4.7"/>
<circle cx="708.14" cy="1384.25" r="4.7"/>
<circle cx="718.85" cy="1384.25" r="4.7"/>
<circle cx="750.98" cy="1384.25" r="4.7"/>
<circle cx="825.94" cy="1384.25" r="4.7"/>
<circle cx="868.78" cy="1384.25" r="4.7"/>
<circle cx="900.90" cy="1384.25" r="4.7"/>
<circle cx="933.03" cy="1384.25" r="4.7"/>
<circle cx="954.45" cy="1384.25" r="4.7"/>
<circle cx="1072.25" cy="1384.25" r="4.7"/>
<circle cx="1125.79" cy="1384.25" r="4.7"/>
<circle cx="1147.21" cy="1384.25" r="4.7"/>
<circle cx="1265.01" cy="1384.25" r="4.7"/>
<circle cx="1275.72" cy="1384.25" r="4.7"/>
<circle cx="1350.68" cy="1384.25" r="4.7"/>
<circle cx="1361.39" cy="1384.25" r="4.7"/>
<circle cx="1414.93" cy="1384.25" r="4.7"/>
<circle cx="1436.35" cy="1384.25" r="4.7"/>
<circle cx="1457.77" cy="1384.25" r="4.7"/>
<circle cx="1479.19" cy="1384.25" r="4.7"/>
<circle cx="1489.90" cy="1384.25" r="4.7"/>
<circle cx="1500.61" cy="1384.25" r="4.7"/>
<circle cx="1511.32" cy="1384.25" r="4.7"/>
<circle cx="1554.15" cy="1384.25" r="4.7"/>
<circle cx="1575.57" cy="1384.25" r="4.7"/>
<circle cx="1618.41" cy="1384.25" r="4.7"/>
<circle cx="1650.53" cy="1384.25" r="4.7"/>
<circle cx="1661.24" cy="1384.25" r="4.7"/>
<circle cx="1704.08" cy="1384.25" r="4.7"/>
<circle cx="1714.79" cy="1384.25" r="4.7"/>
<circle cx="1746.91" cy="1384.25" r="4.7"/>
<circle cx="1789.75" cy="1384.25" r="4.7"/>
<circle cx="1821.88" cy="1384.25" r="4.7"/>
<circle cx="1886.13" cy="1384.25" r="4.7"/>
<circle cx="1896.84" cy="1384.25" r="4.7"/>
<circle cx="1961.09" cy="1384.25" r="4.7"/>
<circle cx="1971.80" cy="1384.25" r="4.7"/>
<circle cx="2003.93" cy="1384.25" r="4.7"/>
<circle cx="2025.35" cy="1384.25" r="4.7"/>
<circle cx="2036.06" cy="1384.25" r="4.7"/>
<circle cx="2100.31" cy="1384.25" r="4.7"/>
<circle cx="161.98" cy="1412.30" r="4.7"/>
<circle cx="172.69" cy="1412.30" r="4.7"/>
<circle cx="194.11" cy="1412.30" r="4.7"/>
<circle cx="204.82" cy="1412.30" r="4.7"/>
<circle cx="226.24" cy="1412.30" r="4.7"/>
<circle cx="247.65" cy="1412.30" r="4.7"/>
<circle cx="258.36" cy="1412.30" r="4.7"/>
<circle cx="279.78" cy="1412.30" r="4.7"/>
<circle cx="290.49" cy="1412.30" r="4.7"/>
<circle cx="301.20" cy="1412.30" r="4.7"/>
<circle cx="322.62" cy="1412.30" r="4.7"/>
<circle cx="333.33" cy="1412.30" r="4.7"/>
<circle cx="354.74" cy="1412.30" r="4.7"/>
<circle cx="397.58" cy="1412.30" r="4.7"/>
<circle cx="419.00" cy="1412.30" r="4.7"/>
<circle cx="429.71" cy="1412.30" r="4.7"/>
<circle cx="504.67" cy="1412.30" r="4.7"/>
<circle cx="558.21" cy="1412.30" r="4.7"/>
<circle cx="568.92" cy="1412.30" r="4.7"/>
<circle cx="579.63" cy="1412.30" r="4.7"/>
<circle cx="601.05" cy="1412.30" r="4.7"/>
<circle cx="622.47" cy="1412.30" r="4.7"/>
</g>
<g fill="#e01010">
<rect x="542.81" y="1060.60" width="9.4" height="8.6"/>
<rect x="2031.36" y="1060.60" width="9.4" height="8.6"/>
<rect x="435.72" y="1093.25" width="9.4" height="8.6"/>
<rect x="446.42" y="1125.95" width="9.4" height="8.6"/>
<rect x="435.72" y="1158.65" width="9.4" height="8.6"/>
<rect x="767.69" y="1158.65" width="9.4" height="8.6"/>
<rect x="585.64" y="1191.25" width="9.4" height="8.6"/>
<rect x="767.69" y="1191.25" width="9.4" height="8.6"/>
<rect x="949.75" y="1191.25" width="9.4" height="8.6"/>
<rect x="746.28" y="1256.50" width="9.4" height="8.6"/>
</g>
<g fill="#1414e6">
<path d="M536.80 1059.20 L542.40 1068.50 L531.20 1068.50 Z"/>
<path d="M1350.68 1189.85 L1356.28 1199.15 L1345.08 1199.15 Z"/>
<path d="M1575.57 1189.85 L1581.17 1199.15 L1569.97 1199.15 Z"/>
</g>
<text x="113.6" y="1074.1" font-size="27.5" text-anchor="end" textLength="72.7" lengthAdjust="spacingAndGlyphs" fill="#050505" stroke="#050505" stroke-width="0.95" style="font-style:italic" >MLH1</text>
<text x="113.6" y="1106.9" font-size="27.5" text-anchor="end" textLength="73.5" lengthAdjust="spacingAndGlyphs" fill="#050505" stroke="#050505" stroke-width="0.95" style="font-style:italic" >MLH3</text>
<text x="113.6" y="1139.6" font-size="27.5" text-anchor="end" textLength="76.5" lengthAdjust="spacingAndGlyphs" fill="#050505" stroke="#050505" stroke-width="0.95" style="font-style:italic" >MSH2</text>
<text x="113.6" y="1172.3" font-size="27.5" text-anchor="end" textLength="76.5" lengthAdjust="spacingAndGlyphs" fill="#050505" stroke="#050505" stroke-width="0.95" style="font-style:italic" >MSH3</text>
<text x="113.6" y="1205.0" font-size="27.5" text-anchor="end" textLength="76.5" lengthAdjust="spacingAndGlyphs" fill="#050505" stroke="#050505" stroke-width="0.95" style="font-style:italic" >MSH6</text>
<text x="113.6" y="1236.7" font-size="27.5" text-anchor="end" textLength="72.5" lengthAdjust="spacingAndGlyphs" fill="#050505" stroke="#050505" stroke-width="0.95" style="font-style:italic" >PMS1</text>
<text x="113.6" y="1270.0" font-size="27.5" text-anchor="end" textLength="74.0" lengthAdjust="spacingAndGlyphs" fill="#050505" stroke="#050505" stroke-width="0.95" style="font-style:italic" >PMS2</text>
<text x="113.6" y="1302.3" font-size="27.5" text-anchor="end" textLength="88.9" lengthAdjust="spacingAndGlyphs" fill="#050505" stroke="#050505" stroke-width="0.95" style="font-style:italic" >POLD1</text>
<text x="113.6" y="1334.6" font-size="27.5" text-anchor="end" textLength="73.5" lengthAdjust="spacingAndGlyphs" fill="#050505" stroke="#050505" stroke-width="0.95" style="font-style:italic" >POLE</text>
<text x="113.6" y="1364.0" font-size="27.5" text-anchor="end" textLength="96.9" lengthAdjust="spacingAndGlyphs" fill="#050505" stroke="#050505" stroke-width="0.95" style="font-style:italic" >PRKDC</text>
<text x="113.6" y="1391.6" font-size="27.5" text-anchor="end" textLength="57.0" lengthAdjust="spacingAndGlyphs" fill="#050505" stroke="#050505" stroke-width="0.95" style="font-style:italic" >APC</text>
<text x="113.6" y="1423.0" font-size="27.5" text-anchor="end" textLength="73.5" lengthAdjust="spacingAndGlyphs" fill="#050505" stroke="#050505" stroke-width="0.95" style="font-style:italic" >BRAF</text>
<text x="113.1" y="1451.1" font-size="27.5" text-anchor="end" textLength="99.8" lengthAdjust="spacingAndGlyphs" fill="#050505" stroke="#050505" stroke-width="0.95"  >(V600E)</text>
</g>
</svg>
</div></body></html>
